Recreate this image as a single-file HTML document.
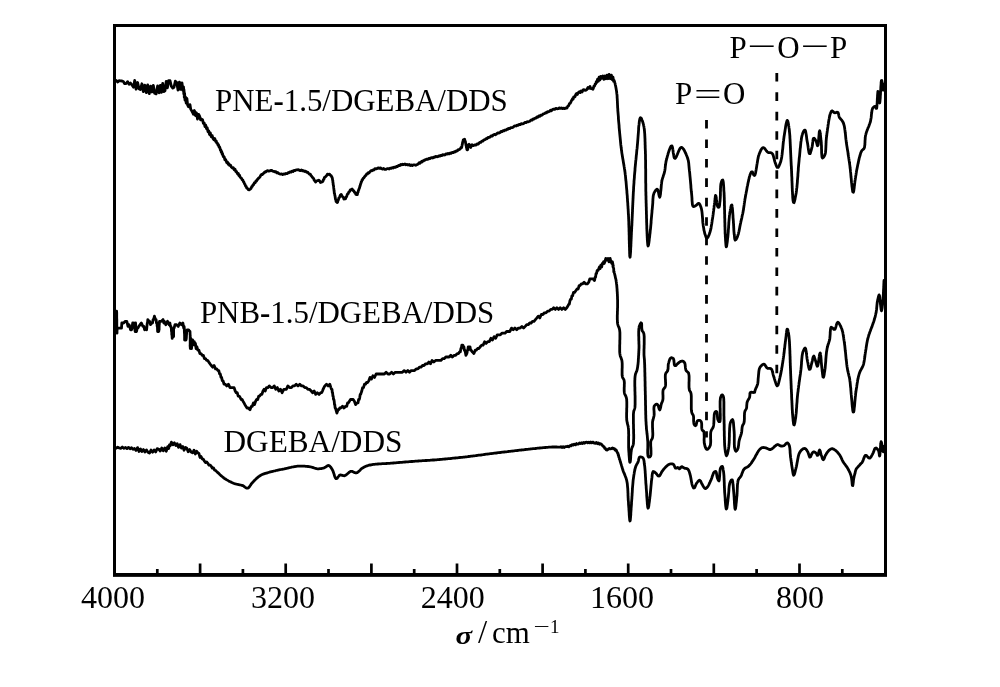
<!DOCTYPE html>
<html><head><meta charset="utf-8"><title>FTIR spectra</title>
<style>
html,body{margin:0;padding:0;background:#fff;}
body{width:1000px;height:687px;overflow:hidden;}
svg{display:block;will-change:transform;}
text{font-family:"Liberation Serif","Times New Roman",serif;font-size:30.9px;fill:#000;}
.c{fill:none;stroke:#000;stroke-width:2.8;stroke-linejoin:round;stroke-linecap:round;}
.t line{stroke:#000;stroke-width:2.7;}
.d{stroke:#000;stroke-width:2.8;stroke-dasharray:8.6 10.85;fill:none;}
</style></head><body>
<svg width="1000" height="687" viewBox="0 0 1000 687">
<rect x="0" y="0" width="1000" height="687" fill="#fff"/>
<rect x="114.5" y="25.5" width="771" height="549.3" fill="none" stroke="#000" stroke-width="3"/>
<rect x="113" y="573" width="774" height="3.8" fill="#000"/>
<g class="t"><line x1="157.3" y1="574" x2="157.3" y2="569.0"/><line x1="200.1" y1="574" x2="200.1" y2="563.5"/><line x1="242.9" y1="574" x2="242.9" y2="569.0"/><line x1="285.7" y1="574" x2="285.7" y2="563.5"/><line x1="328.5" y1="574" x2="328.5" y2="569.0"/><line x1="371.4" y1="574" x2="371.4" y2="563.5"/><line x1="414.2" y1="574" x2="414.2" y2="569.0"/><line x1="457.0" y1="574" x2="457.0" y2="563.5"/><line x1="499.8" y1="574" x2="499.8" y2="569.0"/><line x1="542.6" y1="574" x2="542.6" y2="563.5"/><line x1="585.4" y1="574" x2="585.4" y2="569.0"/><line x1="628.2" y1="574" x2="628.2" y2="563.5"/><line x1="671.0" y1="574" x2="671.0" y2="569.0"/><line x1="713.8" y1="574" x2="713.8" y2="563.5"/><line x1="756.6" y1="574" x2="756.6" y2="569.0"/><line x1="799.5" y1="574" x2="799.5" y2="563.5"/><line x1="842.3" y1="574" x2="842.3" y2="569.0"/></g>
<g><text x="113.0" y="607.6" text-anchor="middle" style="font-size:32px">4000</text><text x="282.9" y="607.6" text-anchor="middle" style="font-size:32px">3200</text><text x="452.8" y="607.6" text-anchor="middle" style="font-size:32px">2400</text><text x="622.0" y="607.6" text-anchor="middle" style="font-size:32px">1600</text><text x="800.1" y="607.6" text-anchor="middle" style="font-size:32px">800</text></g>
<path class="c" d="M116.2 80.5 L117.7 82.1 L119.0 80.7 L120.6 80.8 L122.0 81.0 L123.3 81.5 L124.7 83.7 L126.2 83.5 L127.6 81.7 L129.1 84.3 L130.5 83.1 L132.0 85.0 L133.5 87.2 L134.7 80.4 L136.1 89.2 L137.6 82.5 L139.0 88.7 L140.4 89.6 L141.9 83.8 L143.3 91.6 L144.8 85.1 L146.3 92.7 L147.7 85.0 L149.3 93.7 L150.6 86.2 L151.9 92.0 L153.3 85.3 L154.6 93.3 L156.1 93.9 L157.6 86.0 L159.0 92.8 L160.3 85.5 L161.5 92.4 L162.7 83.4 L163.8 91.6 L165.0 90.8 L166.2 81.5 L167.4 87.8 L168.6 80.6 L170.0 80.7 L171.3 86.1 L172.8 88.1 L174.0 87.3 L175.3 81.2 L176.7 82.6 L178.0 90.0 L179.4 82.1 L180.6 89.4 L182.0 82.9 L182.9 90.3 L183.5 86.8 L183.8 93.9 L183.9 89.5 L184.1 91.1 L184.3 97.4 L184.6 93.4 L185.0 100.2 L185.6 97.1 L186.2 103.1 L186.9 98.4 L187.6 105.0 L188.4 106.7 L189.3 107.0 L190.0 104.6 L190.7 109.1 L191.6 110.6 L192.5 112.2 L193.4 114.3 L194.4 110.5 L195.4 115.6 L196.4 112.8 L197.5 119.0 L198.6 114.3 L199.6 116.1 L200.6 119.9 L201.6 119.2 L202.5 119.7 L203.4 123.3 L204.2 123.0 L205.0 126.7 L205.7 125.1 L206.5 128.8 L207.2 127.7 L208.0 131.8 L208.7 130.8 L209.5 134.5 L210.3 132.7 L211.2 136.8 L212.1 135.4 L213.0 138.4 L213.9 139.8 L214.8 138.6 L215.6 141.5 L216.2 141.0 L216.8 143.1 L217.4 143.1 L218.0 145.0 L218.5 144.8 L219.1 147.2 L219.5 146.8 L219.9 147.8 L220.4 150.1 L220.8 149.8 L221.2 152.1 L221.7 151.6 L222.1 153.9 L222.5 153.5 L223.0 155.7 L223.4 156.6 L223.8 156.4 L224.3 157.3 L224.9 159.8 L225.5 159.5 L226.1 160.7 L226.7 162.6 L227.4 162.0 L228.1 164.2 L228.9 163.8 L229.6 165.4 L230.5 165.1 L231.4 167.1 L232.4 168.1 L233.3 167.7 L234.2 169.8 L235.0 169.2 L235.8 171.5 L236.4 171.4 L237.1 173.0 L237.7 174.0 L238.3 173.5 L238.9 175.5 L239.5 175.2 L240.1 177.0 L240.7 177.7 L241.4 178.1 L242.1 179.7 L242.8 180.0 L243.4 181.7 L243.9 182.1 L244.5 183.9 L245.0 184.3 L245.6 186.2 L246.1 186.3 L246.7 187.9 L247.3 188.2 L248.2 189.6 L249.2 189.8 L250.2 189.1 L251.0 188.4 L251.7 186.7 L252.3 186.5 L253.0 184.9 L253.7 184.6 L254.4 182.7 L255.2 182.7 L255.9 181.0 L256.6 181.0 L257.2 179.6 L257.9 179.3 L258.6 178.0 L259.3 177.7 L260.0 176.8 L260.7 175.4 L261.4 174.5 L262.1 174.7 L263.0 173.7 L263.9 173.1 L264.8 171.9 L265.7 172.1 L266.7 171.0 L267.7 170.6 L268.7 171.2 L269.7 170.9 L270.7 170.4 L271.7 170.3 L272.7 171.2 L273.8 171.4 L275.0 171.9 L275.9 171.6 L276.8 172.8 L277.8 172.6 L278.7 173.5 L279.7 173.9 L280.7 174.2 L281.7 173.9 L282.7 174.5 L283.8 173.9 L285.0 174.2 L286.0 173.5 L287.0 173.7 L288.0 172.7 L289.0 172.8 L290.0 171.9 L291.0 172.2 L292.0 171.1 L293.0 171.5 L294.0 170.3 L295.0 170.7 L296.2 169.8 L297.3 169.8 L298.3 169.6 L299.4 170.3 L300.4 170.6 L301.5 170.0 L302.5 170.9 L303.5 170.6 L304.5 171.5 L305.6 171.2 L306.7 172.4 L307.7 172.2 L308.7 173.5 L309.5 174.2 L310.3 174.2 L311.0 175.6 L311.7 176.3 L312.5 177.3 L313.1 178.1 L313.7 178.7 L314.2 180.3 L314.8 180.5 L315.6 182.0 L316.7 180.8 L317.6 180.7 L318.7 180.2 L319.6 180.9 L320.5 182.5 L321.6 182.2 L322.4 181.6 L322.9 181.4 L323.4 179.6 L323.9 179.3 L324.4 177.5 L325.0 177.2 L325.8 176.4 L326.6 175.7 L327.4 174.2 L328.4 174.5 L329.5 174.1 L330.3 175.3 L331.1 175.5 L331.7 176.9 L332.1 177.4 L332.4 178.6 L332.6 180.1 L332.8 180.5 L332.9 182.4 L333.1 182.8 L333.2 184.6 L333.4 185.2 L333.6 186.4 L333.7 187.9 L333.8 188.5 L333.9 189.4 L334.1 191.1 L334.2 191.5 L334.3 193.1 L334.6 193.7 L334.8 195.3 L335.0 195.8 L335.2 197.2 L335.5 199.2 L335.8 199.7 L336.1 201.5 L336.4 201.8 L337.1 202.5 L337.6 202.2 L338.0 200.5 L338.4 200.0 L338.8 198.0 L339.3 197.7 L339.8 196.6 L340.4 195.0 L341.2 194.4 L342.1 195.9 L342.8 197.0 L343.3 197.3 L343.9 199.0 L344.7 198.9 L345.5 198.9 L346.1 197.1 L346.6 196.7 L347.1 195.0 L347.6 193.8 L348.2 193.7 L348.8 192.1 L349.5 191.6 L350.2 190.0 L351.0 190.1 L352.1 189.0 L353.1 190.6 L353.8 190.9 L354.5 192.3 L355.2 192.6 L355.8 194.3 L356.6 194.7 L357.3 194.6 L357.7 192.7 L358.1 192.2 L358.4 190.5 L358.8 189.8 L359.2 188.3 L359.6 187.8 L359.9 186.1 L360.2 185.8 L360.5 184.1 L360.9 183.6 L361.2 182.1 L361.6 181.7 L362.1 179.9 L362.6 179.7 L363.2 178.2 L363.8 177.9 L364.4 177.1 L365.2 175.7 L366.0 175.4 L366.7 174.0 L367.5 173.9 L368.3 172.6 L369.1 172.8 L370.1 171.5 L371.1 170.7 L372.0 170.9 L372.9 169.9 L373.9 170.0 L374.9 168.7 L375.9 169.0 L376.9 168.7 L378.1 167.8 L379.3 168.4 L380.5 167.8 L381.7 168.8 L382.7 169.2 L383.7 168.5 L384.8 169.4 L386.0 169.3 L387.2 168.6 L388.2 168.6 L389.2 169.0 L390.2 168.2 L391.3 168.4 L392.3 167.6 L393.3 168.0 L394.2 167.1 L395.4 167.4 L396.4 166.4 L397.3 166.6 L398.5 165.5 L399.6 165.7 L400.7 164.5 L401.7 164.9 L402.7 164.2 L403.8 164.6 L405.0 164.0 L406.0 164.8 L407.1 164.4 L408.1 165.0 L409.2 164.5 L410.2 165.5 L411.3 164.9 L412.3 165.5 L413.3 164.8 L414.5 164.8 L415.7 165.3 L416.9 164.6 L418.0 164.2 L419.1 162.8 L420.0 163.2 L420.8 161.9 L421.7 162.1 L422.6 160.9 L423.5 161.0 L424.5 159.9 L425.4 160.0 L426.5 159.1 L427.7 159.3 L428.9 158.4 L429.8 158.8 L430.8 157.8 L431.8 157.6 L432.8 158.0 L433.8 157.1 L434.8 157.3 L435.8 156.4 L436.8 156.8 L437.8 156.6 L438.8 155.8 L439.8 156.2 L440.7 155.3 L441.7 155.6 L442.8 154.6 L443.8 155.0 L444.9 154.9 L446.0 153.9 L447.1 154.2 L448.1 153.4 L449.2 153.9 L450.2 153.0 L451.1 153.3 L452.3 152.4 L453.3 152.7 L454.3 151.6 L455.3 151.9 L456.4 150.8 L457.3 150.9 L458.2 149.6 L459.2 149.6 L460.1 149.1 L461.0 147.5 L461.6 147.6 L462.0 145.7 L462.2 144.6 L462.4 144.0 L462.6 142.3 L462.8 142.0 L463.3 139.9 L463.8 139.5 L464.6 139.2 L465.0 140.9 L465.4 141.5 L465.6 143.2 L465.8 143.5 L466.0 145.3 L466.2 145.6 L466.4 147.4 L466.6 147.7 L466.9 149.6 L467.3 149.9 L467.7 149.6 L467.9 148.1 L468.1 147.0 L468.2 145.4 L468.5 144.9 L469.1 144.2 L469.6 146.1 L470.0 146.4 L470.8 147.4 L471.3 145.6 L472.0 144.7 L473.1 145.7 L474.1 145.2 L475.1 144.9 L476.1 145.0 L477.0 144.0 L478.1 144.1 L478.9 143.4 L479.9 142.3 L480.8 142.3 L481.8 141.1 L482.8 141.1 L483.8 139.8 L484.8 139.9 L485.9 138.7 L486.9 138.8 L488.0 137.5 L489.0 137.5 L490.0 137.2 L491.0 135.9 L492.1 136.2 L493.2 135.0 L494.3 134.4 L495.3 134.8 L496.2 134.3 L497.2 133.2 L498.1 132.8 L499.1 133.1 L500.1 132.6 L501.0 131.4 L502.0 131.7 L503.0 130.6 L504.0 130.9 L505.0 130.0 L505.9 130.2 L506.9 129.2 L507.9 129.3 L508.8 128.3 L509.7 128.6 L510.9 127.6 L512.0 127.7 L513.1 127.3 L514.2 126.1 L515.3 125.8 L516.3 126.0 L517.3 125.1 L518.3 125.3 L519.3 124.4 L520.2 124.7 L521.4 123.6 L522.6 123.9 L523.7 123.5 L524.8 122.5 L526.0 122.7 L527.1 121.7 L528.1 121.8 L529.0 121.5 L530.0 121.1 L531.1 120.0 L532.2 120.0 L533.1 118.9 L534.1 119.1 L535.0 118.1 L535.9 118.1 L536.9 116.9 L537.8 117.3 L538.7 116.0 L539.7 116.4 L540.6 115.2 L541.5 115.4 L542.4 114.8 L543.3 113.8 L544.4 113.7 L545.5 112.7 L546.5 112.9 L547.5 111.7 L548.6 111.8 L549.6 111.3 L550.5 110.2 L551.5 110.7 L552.4 109.5 L553.6 109.1 L554.7 109.3 L555.9 108.3 L557.0 108.8 L558.3 108.6 L559.3 107.8 L560.4 108.4 L561.5 107.9 L562.6 108.7 L563.6 108.2 L564.8 108.6 L565.9 107.9 L566.9 108.1 L567.7 106.4 L568.4 105.9 L568.9 105.1 L569.5 103.6 L570.1 103.4 L570.8 102.3 L571.4 100.8 L572.0 99.9 L572.5 98.7 L573.1 99.1 L573.7 97.0 L574.3 97.3 L575.0 96.7 L575.7 94.6 L576.6 93.5 L577.4 94.4 L578.3 92.5 L579.2 91.8 L580.2 92.6 L581.1 90.9 L582.1 91.9 L583.1 89.8 L584.0 89.6 L585.1 90.3 L586.0 90.1 L587.0 89.3 L588.0 87.5 L588.9 88.2 L590.0 86.5 L590.6 88.5 L591.1 88.6 L592.0 88.6 L592.8 89.3 L593.3 88.5 L593.9 86.1 L594.5 86.2 L595.2 84.0 L595.8 83.8 L596.3 81.6 L596.8 82.3 L597.6 79.2 L598.3 81.2 L599.1 77.2 L599.9 80.0 L600.8 76.4 L601.7 78.3 L602.9 75.9 L603.9 79.4 L605.0 76.0 L606.0 78.8 L607.0 75.1 L608.0 78.7 L609.1 74.4 L610.2 78.7 L611.4 75.1 L612.2 79.6 L613.0 77.2 L613.6 81.2 L614.1 80.5 L614.5 81.6 L614.8 82.7 L615.1 83.7 L615.3 84.8 L615.6 85.9 L615.8 87.0 L616.0 88.1 L616.2 89.3 L616.4 90.4 L616.6 91.5 L616.7 92.6 L616.8 93.7 L617.0 94.8 L617.1 96.0 L617.1 97.2 L617.2 98.4 L617.3 99.7 L617.3 100.7 L617.4 101.7 L617.4 102.7 L617.5 103.8 L617.5 104.9 L617.6 105.9 L617.6 107.0 L617.7 108.1 L617.8 109.2 L617.8 110.3 L617.9 111.4 L618.0 112.5 L618.1 113.7 L618.2 114.8 L618.3 116.0 L618.4 117.2 L618.4 118.4 L618.5 119.6 L618.6 120.9 L618.7 121.9 L618.8 122.9 L618.9 123.9 L619.0 124.9 L619.1 126.0 L619.1 127.0 L619.2 128.0 L619.3 129.1 L619.4 130.1 L619.5 131.2 L619.6 132.2 L619.7 133.3 L619.8 134.3 L619.9 135.3 L620.0 136.4 L620.1 137.4 L620.2 138.4 L620.3 139.5 L620.4 140.5 L620.5 141.5 L620.6 142.5 L620.7 143.7 L620.8 144.9 L621.0 146.1 L621.1 147.3 L621.3 148.5 L621.4 149.6 L621.5 150.6 L621.7 151.6 L621.8 152.6 L622.0 153.9 L622.2 155.1 L622.4 156.3 L622.6 157.5 L622.8 158.7 L623.0 159.8 L623.2 161.0 L623.4 162.2 L623.6 163.4 L623.8 164.6 L624.0 165.8 L624.2 167.0 L624.4 168.0 L624.5 169.0 L624.7 170.0 L624.8 171.1 L625.0 172.1 L625.1 173.2 L625.2 174.2 L625.4 175.3 L625.5 176.5 L625.6 177.6 L625.7 178.8 L625.8 180.0 L626.0 181.2 L626.1 182.4 L626.2 183.6 L626.3 184.8 L626.4 186.0 L626.5 187.3 L626.6 188.3 L626.7 189.3 L626.8 190.3 L626.9 191.3 L626.9 192.3 L627.0 193.4 L627.1 194.4 L627.2 195.4 L627.3 196.4 L627.3 197.5 L627.4 198.5 L627.5 199.5 L627.5 200.6 L627.6 201.6 L627.7 202.6 L627.8 203.7 L627.8 204.7 L627.9 205.8 L628.0 206.8 L628.0 207.8 L628.1 208.9 L628.2 209.9 L628.2 210.9 L628.3 212.0 L628.3 213.0 L628.4 214.0 L628.5 215.0 L628.5 216.1 L628.6 217.1 L628.6 218.3 L628.7 219.4 L628.7 220.6 L628.8 221.9 L628.8 223.1 L628.8 224.4 L628.9 225.7 L628.9 227.0 L629.0 228.3 L629.0 229.6 L629.0 231.0 L629.1 232.0 L629.1 233.0 L629.1 234.3 L629.2 235.6 L629.2 236.9 L629.2 238.2 L629.2 239.5 L629.3 240.8 L629.3 242.0 L629.3 243.3 L629.4 244.5 L629.4 245.6 L629.4 246.7 L629.5 247.8 L629.5 248.9 L629.5 249.9 L629.6 251.1 L629.6 252.2 L629.6 253.2 L629.7 254.3 L629.7 255.3 L629.8 256.4 L630.1 257.2 L630.2 256.2 L630.3 255.1 L630.4 253.9 L630.5 252.8 L630.6 251.6 L630.6 250.6 L630.7 249.5 L630.7 248.3 L630.8 247.1 L630.9 245.8 L630.9 244.5 L631.0 243.2 L631.0 241.9 L631.1 240.9 L631.1 239.9 L631.2 238.9 L631.2 237.9 L631.3 236.9 L631.3 235.6 L631.4 234.3 L631.4 233.0 L631.5 231.8 L631.6 230.6 L631.6 229.6 L631.7 228.5 L631.7 227.4 L631.8 226.2 L631.9 225.1 L631.9 223.9 L632.0 222.7 L632.0 221.5 L632.1 220.3 L632.1 219.0 L632.2 217.8 L632.2 216.8 L632.3 215.8 L632.3 214.7 L632.4 213.7 L632.4 212.7 L632.5 211.6 L632.5 210.6 L632.5 209.6 L632.6 208.5 L632.6 207.5 L632.7 206.4 L632.7 205.4 L632.8 204.3 L632.8 203.2 L632.9 202.2 L632.9 201.1 L633.0 200.1 L633.0 199.0 L633.1 198.0 L633.1 196.9 L633.2 195.9 L633.2 194.9 L633.3 193.8 L633.3 192.8 L633.4 191.8 L633.5 190.8 L633.5 189.8 L633.6 188.8 L633.6 187.5 L633.7 186.3 L633.8 185.1 L633.9 183.9 L634.0 182.7 L634.0 181.5 L634.1 180.4 L634.2 179.3 L634.3 178.3 L634.4 177.2 L634.4 176.2 L634.5 175.1 L634.6 174.1 L634.7 173.0 L634.8 172.0 L634.9 171.0 L635.0 170.0 L635.0 168.9 L635.1 167.9 L635.2 166.9 L635.3 165.9 L635.4 164.9 L635.5 163.9 L635.6 162.9 L635.7 161.7 L635.8 160.4 L636.0 159.2 L636.1 158.0 L636.2 156.8 L636.3 155.5 L636.5 154.3 L636.6 153.1 L636.7 151.9 L636.8 150.7 L636.9 149.5 L637.1 148.4 L637.2 147.2 L637.3 146.0 L637.4 144.9 L637.5 143.8 L637.6 142.6 L637.7 141.4 L637.8 140.1 L637.9 138.8 L638.0 137.5 L638.1 136.2 L638.2 134.9 L638.3 133.6 L638.4 132.3 L638.5 131.0 L638.6 129.7 L638.6 128.4 L638.7 127.2 L638.8 126.0 L639.0 124.9 L639.1 123.8 L639.2 122.8 L639.3 121.7 L639.5 120.6 L639.7 119.5 L639.9 118.6 L640.4 117.7 L641.2 118.2 L641.7 119.2 L642.1 120.3 L642.6 121.4 L642.9 122.7 L643.2 123.7 L643.5 124.7 L643.7 125.8 L644.0 126.9 L644.1 127.9 L644.3 129.0 L644.4 130.0 L644.5 131.2 L644.6 132.3 L644.7 133.5 L644.8 134.8 L644.8 135.8 L644.9 136.8 L644.9 137.9 L645.0 138.9 L645.0 140.0 L645.0 141.1 L645.1 142.2 L645.1 143.3 L645.1 144.5 L645.2 145.6 L645.2 146.8 L645.2 147.9 L645.3 149.1 L645.3 150.1 L645.4 151.2 L645.4 152.2 L645.4 153.3 L645.5 154.5 L645.5 155.6 L645.5 156.7 L645.5 157.9 L645.5 159.1 L645.6 160.3 L645.6 161.5 L645.6 162.7 L645.6 164.0 L645.6 165.0 L645.6 166.0 L645.6 167.0 L645.6 168.0 L645.7 169.1 L645.7 170.1 L645.7 171.1 L645.7 172.2 L645.7 173.2 L645.7 174.3 L645.7 175.3 L645.7 176.4 L645.7 177.4 L645.7 178.5 L645.7 179.5 L645.7 180.6 L645.7 181.6 L645.7 182.7 L645.8 183.8 L645.8 184.8 L645.8 185.9 L645.8 186.9 L645.8 188.0 L645.8 189.0 L645.8 190.1 L645.8 191.1 L645.9 192.1 L645.9 193.2 L645.9 194.2 L645.9 195.2 L646.0 196.2 L646.0 197.2 L646.0 198.3 L646.0 199.3 L646.1 200.4 L646.1 201.5 L646.1 202.6 L646.2 203.8 L646.2 205.0 L646.2 206.2 L646.3 207.4 L646.3 208.7 L646.3 210.0 L646.4 211.3 L646.4 212.6 L646.4 213.9 L646.5 215.2 L646.5 216.6 L646.5 217.9 L646.6 219.2 L646.6 220.5 L646.6 221.9 L646.7 223.2 L646.7 224.5 L646.8 225.8 L646.8 227.0 L646.8 228.3 L646.9 229.5 L646.9 230.7 L647.0 231.9 L647.0 233.1 L647.1 234.2 L647.1 235.3 L647.2 236.3 L647.2 237.3 L647.3 238.5 L647.3 239.7 L647.4 240.7 L647.5 241.9 L647.6 242.9 L647.7 244.0 L647.8 245.0 L648.1 246.0 L648.5 245.0 L648.7 243.8 L648.9 242.8 L649.0 241.7 L649.2 240.5 L649.3 239.2 L649.4 238.2 L649.6 237.2 L649.7 236.2 L649.8 234.8 L650.0 233.6 L650.1 232.5 L650.2 231.4 L650.3 230.2 L650.5 229.0 L650.6 227.8 L650.7 226.8 L650.8 225.7 L650.9 224.7 L651.0 223.6 L651.1 222.5 L651.1 221.4 L651.2 220.3 L651.3 219.2 L651.4 218.2 L651.5 217.1 L651.6 216.0 L651.7 214.9 L651.8 213.8 L651.9 212.8 L652.0 211.8 L652.0 210.8 L652.2 209.6 L652.3 208.4 L652.4 207.3 L652.5 206.2 L652.6 205.1 L652.7 203.9 L652.8 202.8 L652.8 201.6 L652.9 200.5 L652.9 199.5 L653.0 198.4 L653.1 197.4 L653.2 196.2 L653.4 195.1 L653.7 194.1 L654.1 192.9 L654.7 191.8 L655.4 190.7 L656.2 189.8 L657.0 189.2 L657.8 189.8 L658.1 190.8 L658.4 192.1 L658.6 193.1 L658.8 194.2 L659.0 195.2 L659.3 196.3 L659.7 197.2 L660.1 196.3 L660.3 195.1 L660.5 193.9 L660.6 192.8 L660.7 191.6 L660.9 190.3 L661.0 189.0 L661.1 188.0 L661.2 187.0 L661.3 185.7 L661.4 184.4 L661.6 183.2 L661.7 182.1 L661.9 181.1 L662.1 179.8 L662.4 178.8 L662.7 177.8 L663.1 176.7 L663.4 175.6 L663.8 174.4 L664.2 173.3 L664.4 172.3 L664.7 171.1 L664.9 169.9 L665.1 168.7 L665.2 167.7 L665.3 166.7 L665.4 165.7 L665.6 164.6 L665.7 163.6 L665.9 162.6 L666.0 161.5 L666.3 160.5 L666.5 159.5 L666.8 158.5 L667.1 157.4 L667.4 156.2 L667.8 154.9 L668.1 153.7 L668.5 152.4 L668.9 151.2 L669.3 150.0 L669.7 148.9 L670.1 147.9 L670.6 146.9 L671.1 146.1 L672.0 145.9 L672.4 146.9 L672.6 148.0 L672.8 149.2 L673.0 150.2 L673.1 151.3 L673.2 152.4 L673.4 153.5 L673.6 154.5 L673.8 155.8 L674.0 156.9 L674.4 158.0 L675.2 158.4 L675.8 157.7 L676.4 156.5 L676.9 155.4 L677.3 154.5 L677.7 153.5 L678.1 152.5 L678.5 151.5 L678.9 150.6 L679.5 149.4 L680.0 148.4 L680.7 147.6 L681.7 147.4 L682.6 148.1 L683.3 148.9 L683.9 149.8 L684.5 150.8 L685.0 151.9 L685.5 153.0 L686.1 154.2 L686.5 155.3 L687.0 156.5 L687.4 157.5 L687.7 158.5 L688.0 159.5 L688.3 160.6 L688.5 161.8 L688.7 163.0 L688.8 164.2 L688.9 165.4 L689.0 166.4 L689.1 167.5 L689.2 168.6 L689.3 169.7 L689.4 170.7 L689.6 171.9 L689.7 173.0 L689.8 174.2 L689.9 175.3 L690.0 176.3 L690.1 177.3 L690.2 178.4 L690.3 179.5 L690.4 180.6 L690.5 181.7 L690.6 182.8 L690.7 183.9 L690.8 185.0 L690.9 186.1 L690.9 187.1 L691.0 188.2 L691.1 189.2 L691.2 190.2 L691.3 191.5 L691.5 192.6 L691.6 193.8 L691.7 194.8 L691.8 196.0 L691.9 197.3 L692.0 198.6 L692.0 199.8 L692.1 201.1 L692.2 202.2 L692.3 203.3 L692.4 204.5 L692.7 205.6 L693.3 206.5 L694.5 206.4 L695.5 205.8 L696.4 205.2 L697.3 204.3 L698.1 203.5 L699.1 203.5 L699.8 204.3 L700.2 205.3 L700.7 206.5 L701.1 207.7 L701.4 208.7 L701.6 209.7 L701.8 210.8 L702.0 212.1 L702.1 213.1 L702.2 214.2 L702.3 215.3 L702.4 216.4 L702.5 217.5 L702.6 218.7 L702.7 219.8 L702.7 220.9 L702.8 222.0 L702.9 223.0 L703.1 224.2 L703.2 225.4 L703.4 226.6 L703.6 227.7 L703.8 228.8 L703.9 229.8 L704.2 231.0 L704.5 232.2 L704.7 233.3 L705.1 234.4 L705.5 235.6 L705.9 236.8 L706.4 237.8 L707.2 238.2 L707.9 237.4 L708.3 236.5 L708.8 235.4 L709.3 234.2 L709.6 233.2 L710.0 232.0 L710.3 231.0 L710.6 229.9 L710.9 228.7 L711.1 227.7 L711.2 226.7 L711.4 225.7 L711.6 224.6 L711.8 223.5 L711.9 222.5 L712.1 221.4 L712.2 220.3 L712.4 219.3 L712.6 218.3 L712.7 217.3 L712.9 216.2 L713.0 215.2 L713.2 214.2 L713.3 213.1 L713.4 212.1 L713.6 211.0 L713.7 210.0 L713.8 208.9 L714.0 207.9 L714.1 206.9 L714.2 205.7 L714.4 204.5 L714.5 203.4 L714.7 202.4 L714.8 201.1 L714.9 200.1 L715.1 198.8 L715.2 197.6 L715.3 196.6 L715.5 195.5 L716.0 196.1 L716.1 197.3 L716.3 198.4 L716.4 199.8 L716.5 200.8 L716.7 201.8 L716.8 202.9 L717.0 204.1 L717.2 205.2 L717.5 206.2 L718.2 207.3 L719.1 207.2 L719.4 206.1 L719.6 205.1 L719.7 203.9 L719.8 202.6 L720.0 201.3 L720.1 200.0 L720.2 198.9 L720.3 197.7 L720.3 196.7 L720.4 195.6 L720.4 194.5 L720.4 193.4 L720.4 192.2 L720.5 191.1 L720.5 189.9 L720.5 188.8 L720.6 187.7 L720.6 186.7 L720.7 185.5 L720.8 184.4 L721.0 183.3 L721.3 182.3 L721.6 181.4 L722.1 180.3 L722.8 180.0 L723.1 181.1 L723.3 182.2 L723.4 183.2 L723.5 184.4 L723.6 185.6 L723.7 186.9 L723.8 188.3 L723.8 189.6 L723.9 190.8 L724.0 192.0 L724.1 193.1 L724.1 194.2 L724.2 195.4 L724.2 196.6 L724.3 197.8 L724.3 199.1 L724.3 200.1 L724.4 201.1 L724.4 202.1 L724.4 203.1 L724.4 204.1 L724.4 205.2 L724.5 206.2 L724.5 207.3 L724.5 208.3 L724.5 209.4 L724.6 210.4 L724.6 211.5 L724.6 212.5 L724.6 213.7 L724.7 214.7 L724.7 215.7 L724.7 216.8 L724.7 217.8 L724.8 218.9 L724.8 219.9 L724.8 221.0 L724.8 222.0 L724.9 223.1 L724.9 224.2 L724.9 225.2 L724.9 226.3 L725.0 227.3 L725.0 228.4 L725.0 229.4 L725.1 230.6 L725.1 231.8 L725.1 233.0 L725.2 234.1 L725.3 235.2 L725.3 236.3 L725.4 237.6 L725.5 238.9 L725.5 239.9 L725.6 240.9 L725.7 242.2 L725.8 243.4 L725.9 244.5 L726.0 245.7 L726.2 246.8 L726.6 246.4 L726.8 245.1 L726.9 244.1 L727.1 242.9 L727.3 241.6 L727.4 240.6 L727.5 239.6 L727.6 238.6 L727.8 237.3 L727.9 236.2 L728.0 235.1 L728.1 233.9 L728.2 232.7 L728.3 231.7 L728.3 230.6 L728.4 229.6 L728.5 228.5 L728.6 227.4 L728.6 226.3 L728.7 225.2 L728.8 224.1 L728.8 223.0 L728.9 221.9 L729.0 220.8 L729.1 219.7 L729.2 218.7 L729.3 217.5 L729.4 216.3 L729.5 215.2 L729.7 214.2 L729.8 213.1 L730.0 212.1 L730.2 211.0 L730.3 210.0 L730.6 208.7 L730.8 207.5 L731.0 206.5 L731.3 205.5 L731.8 204.9 L732.1 205.9 L732.2 207.0 L732.4 208.2 L732.5 209.4 L732.6 210.6 L732.7 211.9 L732.8 213.2 L732.9 214.5 L733.0 215.8 L733.0 217.1 L733.1 218.2 L733.2 219.2 L733.3 220.3 L733.4 221.3 L733.4 222.3 L733.5 223.4 L733.6 224.5 L733.6 225.6 L733.7 226.6 L733.7 227.7 L733.8 228.7 L733.8 229.7 L733.9 230.9 L734.0 232.1 L734.1 233.2 L734.2 234.3 L734.4 235.6 L734.5 236.9 L734.6 238.1 L734.8 239.2 L735.2 240.1 L736.0 239.6 L736.5 238.7 L737.1 237.5 L737.5 236.6 L737.8 235.6 L738.2 234.6 L738.5 233.5 L738.7 232.3 L739.0 231.3 L739.2 230.3 L739.4 229.3 L739.6 228.2 L739.8 227.1 L740.0 226.1 L740.2 225.0 L740.4 224.0 L740.7 222.8 L740.9 221.6 L741.2 220.4 L741.5 219.2 L741.8 218.0 L742.0 216.8 L742.2 215.8 L742.4 214.8 L742.7 213.8 L742.9 212.8 L743.1 211.8 L743.2 210.8 L743.5 209.6 L743.6 208.4 L743.8 207.2 L744.0 205.9 L744.2 204.7 L744.3 203.5 L744.5 202.5 L744.6 201.5 L744.8 200.5 L744.9 199.4 L745.1 198.4 L745.3 197.4 L745.5 196.3 L745.6 195.3 L745.9 194.1 L746.1 193.1 L746.3 192.0 L746.5 191.0 L746.7 189.9 L746.9 188.7 L747.1 187.6 L747.3 186.4 L747.6 185.3 L747.8 184.2 L748.0 183.0 L748.3 181.9 L748.5 180.9 L748.7 179.8 L749.0 178.9 L749.2 177.7 L749.5 176.6 L749.8 175.7 L750.1 174.7 L750.5 173.7 L751.0 172.7 L751.5 171.8 L752.4 171.9 L752.9 173.0 L753.3 174.0 L753.7 174.9 L754.4 175.6 L755.0 174.8 L755.3 173.8 L755.6 172.8 L755.8 171.6 L756.0 170.5 L756.2 169.4 L756.4 168.1 L756.6 166.9 L756.8 165.6 L757.0 164.3 L757.2 163.3 L757.4 162.0 L757.6 160.7 L757.8 159.4 L758.1 158.2 L758.3 157.1 L758.5 156.1 L758.9 155.0 L759.2 154.0 L759.7 152.8 L760.2 151.7 L760.7 150.5 L761.2 149.5 L761.8 148.7 L762.5 147.9 L763.5 147.6 L764.4 148.2 L765.1 149.0 L765.8 150.0 L766.5 151.0 L767.3 151.8 L768.2 152.5 L769.3 152.7 L770.3 152.7 L771.3 152.8 L772.2 153.5 L772.8 154.3 L773.2 155.4 L773.5 156.5 L773.8 157.6 L774.1 158.7 L774.4 159.9 L774.6 160.9 L774.9 161.9 L775.3 163.1 L775.8 164.3 L776.2 165.5 L776.7 166.6 L777.2 167.4 L778.2 167.3 L778.8 166.5 L779.2 165.5 L779.7 164.4 L780.2 163.1 L780.5 162.2 L780.9 161.0 L781.1 159.9 L781.4 158.9 L781.6 157.8 L781.8 156.7 L781.9 155.5 L782.1 154.5 L782.2 153.4 L782.3 152.4 L782.4 151.3 L782.5 150.2 L782.7 149.1 L782.8 148.0 L782.9 146.9 L783.0 145.7 L783.1 144.6 L783.2 143.5 L783.3 142.5 L783.4 141.4 L783.6 140.4 L783.7 139.3 L783.9 138.1 L784.0 136.9 L784.2 135.8 L784.4 134.6 L784.6 133.3 L784.8 132.0 L785.0 130.7 L785.2 129.4 L785.4 128.1 L785.6 126.8 L785.8 125.6 L786.0 124.5 L786.2 123.5 L786.5 122.4 L786.8 121.3 L787.2 120.4 L787.8 121.2 L788.1 122.3 L788.3 123.3 L788.5 124.5 L788.7 125.8 L788.9 126.8 L789.0 127.9 L789.2 128.9 L789.3 129.9 L789.4 131.0 L789.5 132.1 L789.6 133.1 L789.7 134.2 L789.8 135.3 L789.9 136.4 L789.9 137.6 L790.0 138.8 L790.1 140.1 L790.1 141.1 L790.2 142.1 L790.2 143.2 L790.3 144.3 L790.3 145.3 L790.4 146.4 L790.4 147.5 L790.5 148.6 L790.5 149.7 L790.6 150.8 L790.6 152.0 L790.7 153.1 L790.7 154.2 L790.8 155.3 L790.8 156.4 L790.9 157.5 L790.9 158.6 L791.0 159.7 L791.0 160.8 L791.1 161.9 L791.1 162.9 L791.2 164.0 L791.2 165.0 L791.3 166.0 L791.4 167.0 L791.4 168.1 L791.5 169.2 L791.5 170.4 L791.6 171.6 L791.6 172.8 L791.7 174.1 L791.7 175.4 L791.8 176.7 L791.9 178.0 L791.9 179.3 L791.9 180.3 L792.0 181.3 L792.0 182.3 L792.1 183.7 L792.1 185.0 L792.2 186.3 L792.2 187.6 L792.3 188.9 L792.3 190.1 L792.4 191.3 L792.5 192.5 L792.5 193.6 L792.6 194.7 L792.7 195.8 L792.7 197.0 L792.8 198.1 L792.9 199.2 L793.0 200.3 L793.2 201.3 L793.4 202.3 L794.0 202.7 L794.4 201.6 L794.7 200.4 L795.0 199.3 L795.2 198.0 L795.4 197.0 L795.6 196.0 L795.8 195.0 L796.0 194.0 L796.2 193.0 L796.3 191.9 L796.5 190.7 L796.6 189.6 L796.7 188.5 L796.9 187.4 L797.0 186.2 L797.1 185.0 L797.2 184.0 L797.3 182.9 L797.4 181.9 L797.4 180.8 L797.5 179.8 L797.6 178.7 L797.7 177.6 L797.8 176.5 L797.9 175.4 L797.9 174.3 L798.0 173.1 L798.1 172.0 L798.2 170.9 L798.3 169.8 L798.3 168.7 L798.4 167.6 L798.5 166.5 L798.6 165.5 L798.7 164.4 L798.8 163.4 L798.9 162.3 L799.0 161.3 L799.1 160.1 L799.2 158.9 L799.3 157.7 L799.5 156.6 L799.6 155.5 L799.7 154.3 L799.8 153.2 L799.9 152.1 L800.0 150.9 L800.1 149.7 L800.2 148.6 L800.4 147.5 L800.5 146.3 L800.6 145.2 L800.7 144.1 L800.8 143.1 L800.9 142.0 L801.1 141.0 L801.3 139.8 L801.4 138.7 L801.6 137.6 L801.8 136.6 L802.1 135.4 L802.4 134.4 L802.7 133.3 L803.1 132.4 L803.7 131.2 L804.3 130.4 L805.1 130.1 L805.6 131.2 L805.8 132.3 L806.0 133.4 L806.2 134.6 L806.4 135.8 L806.6 137.2 L806.7 138.5 L806.9 139.7 L807.1 140.9 L807.3 142.0 L807.5 143.1 L807.7 144.3 L807.9 145.6 L808.1 146.9 L808.2 147.9 L808.4 149.2 L808.6 150.4 L808.8 151.5 L809.0 152.7 L809.4 153.6 L810.1 153.7 L810.5 152.7 L810.8 151.7 L811.2 150.4 L811.5 149.2 L811.8 147.9 L812.1 146.8 L812.3 145.7 L812.5 144.5 L812.6 143.2 L812.8 141.9 L812.9 140.7 L813.1 139.6 L813.3 138.6 L814.1 138.2 L814.8 139.0 L815.5 140.1 L816.1 141.2 L816.5 142.2 L816.8 143.5 L817.1 144.7 L817.5 145.8 L818.0 145.3 L818.2 144.2 L818.3 143.1 L818.4 141.8 L818.5 140.8 L818.6 139.7 L818.7 138.6 L818.8 137.4 L818.9 136.3 L819.0 135.3 L819.1 134.0 L819.2 132.8 L819.3 131.7 L819.7 130.8 L820.0 131.9 L820.2 133.0 L820.3 134.1 L820.5 135.3 L820.6 136.6 L820.8 138.0 L820.9 139.3 L821.0 140.5 L821.2 141.7 L821.3 142.7 L821.3 143.8 L821.4 144.9 L821.5 146.2 L821.5 147.5 L821.5 148.8 L821.6 150.1 L821.6 151.4 L821.6 152.6 L821.7 153.8 L821.8 154.9 L821.9 156.0 L822.0 157.1 L822.5 158.0 L823.4 157.4 L824.1 156.4 L824.6 155.5 L825.0 154.5 L825.3 153.5 L825.5 152.5 L825.6 151.4 L825.7 150.2 L825.8 149.2 L825.8 148.2 L825.9 147.1 L825.9 146.0 L826.0 144.9 L826.0 143.7 L826.1 142.6 L826.1 141.4 L826.2 140.3 L826.3 139.1 L826.4 138.0 L826.5 137.0 L826.7 135.8 L826.8 134.8 L826.9 133.7 L827.1 132.6 L827.2 131.5 L827.4 130.4 L827.5 129.2 L827.7 128.0 L827.9 126.9 L828.0 125.7 L828.2 124.6 L828.4 123.4 L828.5 122.3 L828.7 121.2 L828.9 120.1 L829.1 119.1 L829.3 117.9 L829.5 116.8 L829.8 115.7 L830.0 114.6 L830.4 113.6 L830.8 112.5 L831.3 111.4 L832.1 110.8 L833.0 111.4 L833.8 112.4 L834.7 112.8 L835.8 112.6 L836.8 112.2 L837.8 112.3 L838.3 113.2 L838.6 114.3 L838.8 115.5 L839.1 116.7 L839.5 117.6 L840.2 118.5 L841.0 119.4 L841.7 120.2 L842.3 121.0 L842.9 122.0 L843.4 123.0 L843.7 124.0 L844.0 125.0 L844.3 126.1 L844.5 127.2 L844.7 128.4 L844.8 129.4 L845.0 130.5 L845.1 131.5 L845.2 132.6 L845.4 133.7 L845.5 134.8 L845.6 135.9 L845.7 137.0 L845.8 138.1 L845.9 139.2 L846.1 140.2 L846.2 141.3 L846.3 142.3 L846.5 143.4 L846.6 144.3 L846.8 145.6 L847.0 146.8 L847.2 148.0 L847.4 149.2 L847.6 150.4 L847.8 151.6 L848.0 152.8 L848.1 154.0 L848.3 155.3 L848.5 156.5 L848.7 157.5 L848.8 158.5 L849.0 159.5 L849.1 160.5 L849.3 161.5 L849.4 162.6 L849.6 163.6 L849.7 164.6 L849.9 165.9 L850.0 166.9 L850.1 168.1 L850.3 169.2 L850.4 170.5 L850.5 171.7 L850.7 173.0 L850.8 174.3 L850.9 175.6 L851.0 177.0 L851.2 178.3 L851.3 179.6 L851.4 180.9 L851.5 182.2 L851.7 183.4 L851.8 184.6 L851.9 185.7 L852.0 186.8 L852.2 187.8 L852.3 188.9 L852.5 190.0 L852.6 191.0 L852.9 192.0 L853.4 192.2 L853.7 191.2 L853.9 190.1 L854.0 189.0 L854.2 187.9 L854.3 186.6 L854.5 185.3 L854.6 184.0 L854.8 182.7 L854.9 181.4 L855.1 180.2 L855.3 179.2 L855.4 178.2 L855.6 177.2 L855.7 176.2 L855.9 175.2 L856.1 174.2 L856.2 173.2 L856.4 172.2 L856.5 171.2 L856.7 170.2 L856.9 169.2 L857.1 168.2 L857.3 167.2 L857.5 166.2 L857.7 165.2 L857.9 164.2 L858.2 163.2 L858.4 162.1 L858.6 161.0 L858.9 159.9 L859.1 158.7 L859.4 157.6 L859.7 156.5 L860.0 155.5 L860.3 154.5 L860.6 153.3 L861.0 152.3 L861.5 151.2 L862.1 150.3 L862.8 149.7 L863.8 148.9 L864.3 147.9 L864.6 146.8 L864.7 145.7 L864.9 144.5 L864.9 143.4 L865.0 142.3 L865.0 141.2 L865.1 140.0 L865.2 138.9 L865.2 137.7 L865.4 136.6 L865.5 135.6 L865.8 134.6 L866.1 133.4 L866.4 132.4 L866.7 131.4 L867.1 130.5 L867.4 129.5 L867.8 128.6 L868.2 127.6 L868.6 126.7 L869.0 125.7 L869.3 124.8 L869.7 123.8 L870.0 122.9 L870.4 121.7 L870.6 120.7 L870.8 119.6 L871.0 118.5 L871.2 117.4 L871.3 116.2 L871.4 115.1 L871.5 113.9 L871.7 112.8 L871.8 111.8 L872.0 110.5 L872.2 109.5 L872.6 108.4 L873.2 107.5 L874.1 106.7 L875.2 106.4 L875.8 107.3 L876.1 108.3 L876.6 108.4 L876.8 107.4 L876.9 106.1 L877.0 104.9 L877.1 103.6 L877.2 102.5 L877.2 101.4 L877.3 100.3 L877.3 99.2 L877.4 98.1 L877.5 97.0 L877.5 96.0 L877.6 94.7 L877.7 93.5 L877.8 92.4 L877.9 91.4 L878.3 92.1 L878.4 93.4 L878.6 94.6 L878.7 95.7 L878.8 96.8 L878.9 97.9 L879.0 99.1 L879.1 100.1 L879.2 101.3 L879.4 102.5 L879.7 102.9 L879.9 101.8 L880.0 100.7 L880.1 99.6 L880.2 98.5 L880.3 97.2 L880.3 96.2 L880.4 95.1 L880.5 94.0 L880.5 92.9 L880.6 91.8 L880.6 90.7 L880.7 89.6 L880.8 88.5 L880.8 87.4 L880.9 86.4 L881.0 85.1 L881.1 83.8 L881.1 82.8 L881.3 81.6 L881.4 80.6 L881.8 80.4 L882.0 81.5 L882.1 82.7 L882.2 83.7 L882.4 84.8 L882.5 85.9 L882.6 87.0 L882.7 88.0 L882.9 89.2 L883.1 90.2 L883.5 89.5 L883.8 88.3 L884.0 87.2 L884.1 86.1 L884.3 84.9 L884.4 84.0"/>
<path class="c" d="M116.2 321.3 L116.2 319.6 L116.3 317.9 L116.3 316.2 L116.4 314.5 L116.4 312.8 L116.5 311.1 L116.6 311.1 L116.7 312.8 L116.7 314.5 L116.7 316.2 L116.7 317.9 L116.8 319.6 L116.8 321.3 L116.8 323.0 L116.8 324.7 L116.8 326.4 L116.8 328.1 L116.9 329.8 L116.9 331.5 L116.9 333.2 L117.0 333.2 L117.0 331.5 L117.1 329.8 L117.2 328.1 L118.6 328.1 L120.3 328.1 L121.5 328.1 L121.8 323.0 L122.2 323.0 L123.6 323.0 L125.3 321.3 L126.8 321.3 L128.0 326.4 L129.0 324.7 L129.8 326.4 L130.5 329.8 L131.6 329.8 L132.2 326.4 L132.7 323.0 L133.2 324.7 L134.0 323.0 L134.3 324.7 L134.5 328.1 L134.7 328.1 L134.9 329.8 L135.2 331.5 L135.3 326.4 L135.4 326.4 L135.6 323.0 L135.7 324.7 L135.7 329.8 L135.9 328.1 L136.5 331.5 L137.2 328.1 L137.9 328.1 L138.8 326.4 L140.0 324.7 L141.4 323.0 L142.9 326.4 L143.9 326.4 L144.6 329.8 L145.5 328.1 L146.6 329.8 L146.9 326.4 L147.1 324.7 L147.3 323.0 L147.5 323.0 L147.8 319.6 L149.0 321.3 L149.7 321.3 L150.5 324.7 L151.7 323.0 L152.5 323.0 L153.1 319.6 L153.6 319.6 L154.4 316.2 L155.6 319.6 L156.1 319.6 L156.5 323.0 L156.9 323.0 L157.2 326.4 L157.4 326.4 L157.5 328.1 L157.6 331.5 L157.8 329.8 L157.9 331.5 L158.0 326.4 L158.1 326.4 L158.2 323.0 L158.4 324.7 L158.5 324.7 L158.6 324.7 L158.6 328.1 L158.7 331.5 L159.0 329.8 L159.1 329.8 L159.1 328.1 L159.2 324.7 L159.3 324.7 L159.5 321.3 L159.9 321.3 L161.4 321.3 L163.0 319.6 L163.8 323.0 L164.3 321.3 L165.8 324.7 L167.5 321.3 L169.1 324.7 L169.9 323.0 L170.4 326.4 L170.9 326.4 L171.3 328.1 L171.5 331.5 L171.7 331.5 L171.8 334.9 L172.0 334.9 L172.2 338.3 L172.4 334.9 L172.5 334.9 L172.6 331.5 L172.7 329.8 L172.9 329.8 L173.1 329.8 L173.2 331.5 L173.3 334.9 L173.4 334.9 L173.6 336.6 L173.6 333.2 L173.6 333.2 L173.6 329.8 L173.8 328.1 L174.1 328.1 L175.0 324.7 L176.6 324.7 L178.2 326.4 L179.8 323.0 L181.5 324.7 L182.9 323.0 L183.7 328.1 L184.1 326.4 L184.3 328.1 L184.4 333.2 L184.5 331.5 L184.6 336.6 L184.6 334.9 L184.6 340.0 L184.7 338.3 L185.0 340.0 L185.1 336.6 L185.2 336.6 L185.3 333.2 L185.4 333.2 L185.6 333.2 L185.7 333.2 L185.8 336.6 L185.9 336.6 L186.0 340.0 L186.3 338.3 L186.4 336.6 L186.4 336.6 L186.5 334.9 L186.7 331.5 L187.1 329.8 L188.6 329.8 L189.7 331.5 L190.0 331.5 L190.1 334.9 L190.2 334.9 L190.2 340.0 L190.2 338.3 L190.2 343.4 L190.2 341.7 L190.2 346.8 L190.1 345.1 L190.3 348.5 L190.4 345.1 L190.5 345.1 L190.6 341.7 L190.7 341.7 L190.8 338.3 L191.0 340.0 L191.1 341.7 L191.1 341.7 L191.2 345.1 L191.3 345.1 L191.5 348.5 L191.9 345.1 L192.2 343.4 L192.4 345.1 L192.7 340.0 L193.5 341.7 L194.3 341.7 L194.8 345.1 L195.4 343.4 L196.1 348.5 L196.9 346.8 L197.8 350.2 L198.9 350.2 L199.9 353.6 L201.0 353.6 L202.3 355.3 L203.4 355.3 L204.4 358.7 L205.6 358.7 L206.6 360.4 L207.7 360.4 L208.8 362.1 L210.0 363.8 L211.3 365.5 L212.7 367.2 L214.1 365.5 L215.5 368.9 L216.8 368.9 L217.9 370.6 L218.8 370.6 L219.6 374.0 L220.3 374.0 L221.0 377.4 L221.6 377.4 L222.3 380.8 L223.1 380.8 L224.0 384.2 L225.2 384.2 L226.7 385.9 L228.4 384.2 L230.0 387.6 L231.6 387.6 L233.0 387.6 L234.1 387.6 L235.2 391.0 L236.2 392.7 L237.2 392.7 L238.2 396.1 L239.2 396.1 L240.3 397.8 L241.2 399.5 L242.1 399.5 L243.0 401.2 L244.0 402.9 L244.9 404.6 L245.9 406.3 L247.0 408.0 L248.3 408.0 L250.0 409.7 L251.3 406.3 L252.3 406.3 L253.4 402.9 L254.5 404.6 L255.6 401.2 L256.6 399.5 L257.7 399.5 L258.7 396.1 L259.7 396.1 L260.8 394.4 L261.9 394.4 L263.0 391.0 L264.1 389.3 L265.2 391.0 L266.5 387.6 L267.9 387.6 L269.3 385.9 L271.0 387.6 L272.7 387.6 L274.2 385.9 L275.7 389.3 L277.3 387.6 L278.8 391.0 L280.5 389.3 L282.1 392.7 L283.8 389.3 L285.1 389.3 L286.3 389.3 L287.9 385.9 L289.6 387.6 L291.4 387.6 L292.9 385.9 L294.6 385.9 L296.2 384.2 L298.0 385.9 L299.8 384.2 L301.5 385.9 L303.1 385.9 L304.8 387.6 L306.3 387.6 L307.9 389.3 L309.5 389.3 L311.2 391.0 L312.7 392.7 L314.2 391.0 L315.7 394.4 L317.3 392.7 L319.1 394.4 L320.7 392.7 L321.7 392.7 L322.5 391.0 L323.1 389.3 L323.9 387.6 L324.8 385.9 L326.5 384.2 L328.1 385.9 L329.8 384.2 L330.9 387.6 L331.5 389.3 L332.0 389.3 L332.3 392.7 L332.6 392.7 L332.9 396.1 L333.2 396.1 L333.5 399.5 L333.9 399.5 L334.2 401.2 L334.5 404.6 L334.8 404.6 L335.1 408.0 L335.4 408.0 L335.9 409.7 L336.9 413.1 L338.0 409.7 L338.9 409.7 L339.7 408.0 L340.7 408.0 L342.5 406.3 L344.0 408.0 L345.6 406.3 L346.7 406.3 L347.6 402.9 L348.4 402.9 L349.4 401.2 L350.5 399.5 L352.0 399.5 L353.2 399.5 L354.4 401.2 L355.6 404.6 L357.0 402.9 L358.0 402.9 L358.6 399.5 L359.2 399.5 L359.7 397.8 L360.2 394.4 L360.7 394.4 L361.2 392.7 L361.8 391.0 L362.6 387.6 L363.5 387.6 L364.5 384.2 L365.5 384.2 L366.5 382.5 L367.6 382.5 L368.8 380.8 L370.0 377.4 L371.4 379.1 L372.9 375.7 L374.5 377.4 L376.1 374.0 L377.9 374.0 L379.5 374.0 L381.1 374.0 L382.7 374.0 L384.4 374.0 L386.1 372.3 L387.9 374.0 L389.7 374.0 L391.6 372.3 L393.4 374.0 L395.2 372.3 L397.0 372.3 L398.8 372.3 L400.5 372.3 L402.4 372.3 L404.2 370.6 L406.0 372.3 L407.8 370.6 L409.5 372.3 L411.2 370.6 L412.9 370.6 L414.5 370.6 L416.2 368.9 L417.9 368.9 L419.4 367.2 L420.9 367.2 L422.5 365.5 L424.0 365.5 L425.6 363.8 L427.3 363.8 L428.8 362.1 L430.5 363.8 L432.1 360.4 L433.8 362.1 L435.6 360.4 L437.3 360.4 L439.1 360.4 L440.8 360.4 L442.5 358.7 L444.1 358.7 L445.8 357.0 L447.5 357.0 L449.1 357.0 L450.8 355.3 L452.4 357.0 L454.2 355.3 L455.7 355.3 L457.2 353.6 L458.5 353.6 L459.5 351.9 L460.3 351.9 L460.9 348.5 L461.3 348.5 L461.8 345.1 L462.8 345.1 L463.5 346.8 L463.9 346.8 L464.4 350.2 L464.8 350.2 L465.3 351.9 L465.9 355.3 L466.8 353.6 L467.2 351.9 L467.5 350.2 L467.8 350.2 L468.2 346.8 L469.3 346.8 L470.0 346.8 L470.6 350.2 L471.2 350.2 L472.3 351.9 L473.9 353.6 L475.2 350.2 L476.3 350.2 L477.6 348.5 L478.9 348.5 L480.2 346.8 L481.7 345.1 L483.1 345.1 L484.6 341.7 L486.1 343.4 L487.7 341.7 L489.3 341.7 L490.9 338.3 L492.5 340.0 L494.1 336.6 L495.7 338.3 L497.2 334.9 L498.8 334.9 L500.3 334.9 L501.9 333.2 L503.4 333.2 L505.0 333.2 L506.6 331.5 L508.2 331.5 L509.8 331.5 L511.5 328.1 L513.2 329.8 L514.9 328.1 L516.7 329.8 L518.4 328.1 L520.1 328.1 L521.9 326.4 L523.6 328.1 L525.2 326.4 L526.7 324.7 L528.2 324.7 L529.7 323.0 L531.1 323.0 L532.5 321.3 L534.0 321.3 L535.4 319.6 L536.9 317.9 L538.3 316.2 L539.8 317.9 L541.3 314.5 L542.9 314.5 L544.4 312.8 L546.0 312.8 L547.6 311.1 L549.1 311.1 L550.7 309.4 L552.2 309.4 L553.7 307.7 L555.3 309.4 L556.9 307.7 L558.5 309.4 L560.2 307.7 L561.8 309.4 L563.6 307.7 L565.3 309.4 L566.8 307.7 L567.9 306.0 L568.7 304.3 L569.3 304.3 L569.9 300.9 L570.6 299.2 L571.3 299.2 L571.9 295.8 L572.6 295.8 L573.5 292.4 L574.6 292.4 L575.8 290.7 L577.0 289.0 L578.2 289.0 L579.1 285.6 L580.1 285.6 L581.2 283.9 L582.4 283.9 L584.1 282.2 L585.8 283.9 L587.4 283.9 L588.8 282.2 L589.3 280.5 L589.8 278.8 L591.4 278.8 L593.0 278.8 L594.5 280.5 L595.2 277.1 L595.6 277.1 L596.0 273.7 L596.5 273.7 L597.2 270.3 L598.2 270.3 L599.4 266.9 L600.1 268.6 L600.8 265.2 L601.7 266.9 L602.3 263.5 L603.0 263.5 L603.6 261.8 L604.2 263.5 L604.9 261.8 L605.8 258.4 L606.9 260.1 L608.0 258.4 L609.0 261.8 L610.1 258.4 L611.0 261.8 L611.9 263.5 L612.4 261.8 L612.8 263.5 L613.0 266.9 L613.2 265.2 L613.3 266.9 L613.5 268.6 L613.7 268.6 L613.8 272.0 L614.1 271.6 L614.3 272.8 L614.6 274.0 L614.9 275.2 L615.2 276.4 L615.4 277.4 L615.6 278.4 L615.9 279.4 L616.1 280.4 L616.2 281.5 L616.4 282.6 L616.5 283.7 L616.7 284.9 L616.8 286.0 L616.9 287.3 L617.0 288.5 L617.1 289.5 L617.1 290.5 L617.2 291.5 L617.3 292.6 L617.3 293.6 L617.4 294.6 L617.4 295.7 L617.5 296.8 L617.5 297.8 L617.5 298.9 L617.6 299.9 L617.6 301.0 L617.6 302.2 L617.6 303.2 L617.6 304.3 L617.6 305.3 L617.6 306.4 L617.6 307.5 L617.5 308.6 L617.5 309.7 L617.5 310.8 L617.4 311.9 L617.4 313.0 L617.4 314.1 L617.3 315.1 L617.3 316.2 L617.3 317.2 L617.3 318.4 L617.3 319.6 L617.4 320.7 L617.4 321.8 L617.5 323.0 L617.7 324.1 L618.0 325.2 L618.4 326.3 L618.9 327.3 L619.3 328.5 L619.5 329.6 L619.7 330.6 L619.8 331.6 L619.9 332.7 L619.9 333.9 L619.9 334.9 L619.9 336.0 L619.9 337.1 L619.9 338.2 L619.9 339.3 L619.8 340.5 L619.8 341.7 L619.8 342.8 L619.8 344.0 L619.7 345.2 L619.7 346.3 L619.7 347.4 L619.7 348.5 L619.7 349.6 L619.7 350.6 L619.7 351.8 L619.8 352.9 L619.9 353.9 L620.1 354.9 L620.3 356.1 L620.7 357.0 L621.1 358.1 L621.5 359.2 L621.8 360.1 L622.0 361.2 L622.1 362.3 L622.2 363.5 L622.2 364.5 L622.2 365.6 L622.2 366.7 L622.2 367.9 L622.1 369.0 L622.1 370.2 L622.1 371.3 L622.1 372.4 L622.1 373.5 L622.1 374.7 L622.2 375.8 L622.4 376.8 L622.7 377.8 L623.4 378.8 L624.0 379.9 L624.2 380.9 L624.3 382.0 L624.4 383.2 L624.3 384.3 L624.3 385.4 L624.3 386.6 L624.2 387.7 L624.2 388.9 L624.2 390.0 L624.2 391.0 L624.3 392.2 L624.5 393.3 L624.8 394.3 L625.4 395.3 L625.9 396.4 L626.3 397.5 L626.5 398.5 L626.7 399.6 L626.7 400.7 L626.8 401.9 L626.8 402.9 L626.8 403.9 L626.8 405.0 L626.8 406.1 L626.8 407.3 L626.7 408.4 L626.7 409.6 L626.7 410.7 L626.7 411.9 L626.6 413.0 L626.6 414.1 L626.6 415.2 L626.6 416.3 L626.6 417.5 L626.7 418.7 L626.7 419.7 L626.9 420.9 L627.1 422.0 L627.3 423.2 L627.6 424.3 L627.9 425.4 L628.2 426.6 L628.3 427.7 L628.5 428.9 L628.5 429.9 L628.6 431.1 L628.6 432.3 L628.6 433.5 L628.7 434.6 L628.7 435.6 L628.6 436.7 L628.6 437.8 L628.6 438.9 L628.6 440.0 L628.6 441.1 L628.6 442.2 L628.6 443.2 L628.6 444.3 L628.6 445.3 L628.6 446.4 L628.6 447.6 L628.7 448.8 L628.7 449.9 L628.8 451.1 L628.9 452.4 L629.0 453.4 L629.0 454.4 L629.1 455.4 L629.2 456.7 L629.3 458.0 L629.4 459.1 L629.5 460.2 L629.6 461.3 L629.8 462.3 L630.2 462.0 L630.4 460.8 L630.5 459.8 L630.6 458.7 L630.7 457.4 L630.7 456.4 L630.8 455.4 L630.9 454.3 L631.0 453.3 L631.1 452.1 L631.3 450.9 L631.4 449.8 L631.7 448.7 L632.0 447.7 L632.5 446.7 L633.0 445.5 L633.3 444.3 L633.5 443.2 L633.5 442.1 L633.6 441.1 L633.6 439.9 L633.7 438.7 L633.7 437.7 L633.7 436.6 L633.7 435.5 L633.7 434.3 L633.6 433.2 L633.6 432.0 L633.6 430.8 L633.6 429.6 L633.5 428.3 L633.5 427.1 L633.5 425.9 L633.5 424.7 L633.4 423.5 L633.4 422.3 L633.4 421.2 L633.4 420.1 L633.4 419.0 L633.4 418.0 L633.4 416.7 L633.4 415.6 L633.4 414.5 L633.5 413.4 L633.6 412.3 L633.8 411.1 L634.2 410.0 L634.5 409.1 L634.8 408.1 L635.0 407.0 L635.0 405.9 L635.1 404.8 L635.1 403.7 L635.1 402.6 L635.1 401.3 L635.1 400.3 L635.1 399.2 L635.1 398.1 L635.1 397.0 L635.1 395.8 L635.0 394.6 L635.0 393.4 L635.0 392.2 L634.9 391.0 L634.9 389.8 L634.9 388.6 L634.9 387.4 L634.8 386.2 L634.8 385.1 L634.8 384.0 L634.8 382.9 L634.8 381.8 L634.8 380.8 L634.9 379.5 L634.9 378.4 L635.0 377.4 L635.1 376.2 L635.3 375.1 L635.5 373.9 L635.9 372.9 L636.3 371.9 L636.8 370.8 L637.1 369.9 L637.3 368.8 L637.5 367.7 L637.7 366.6 L637.8 365.5 L638.0 364.3 L638.1 363.1 L638.2 362.1 L638.3 361.1 L638.3 360.0 L638.4 359.0 L638.5 357.9 L638.5 356.8 L638.6 355.7 L638.7 354.6 L638.7 353.5 L638.8 352.5 L638.8 351.4 L638.9 350.3 L638.9 349.3 L639.0 348.1 L639.0 347.0 L639.0 345.9 L639.0 344.8 L638.9 343.7 L638.9 342.6 L638.9 341.4 L638.8 340.3 L638.8 339.2 L638.8 338.0 L638.8 336.9 L638.7 335.8 L638.7 334.7 L638.7 333.6 L638.7 332.6 L638.7 331.4 L638.8 330.2 L638.8 329.2 L639.0 328.0 L639.1 327.0 L639.5 325.7 L639.9 324.8 L640.4 323.7 L641.0 322.8 L641.6 323.3 L641.7 324.5 L641.7 325.7 L641.7 327.1 L641.8 328.4 L641.9 329.6 L642.1 330.7 L642.7 331.5 L643.4 332.4 L643.8 333.4 L644.0 334.6 L644.1 335.6 L644.2 336.7 L644.2 337.7 L644.2 338.8 L644.2 339.9 L644.2 341.0 L644.2 342.2 L644.2 343.4 L644.2 344.6 L644.1 345.9 L644.1 347.1 L644.1 348.2 L644.0 349.4 L644.0 350.5 L644.0 351.5 L644.0 352.8 L644.0 353.9 L644.0 355.0 L644.1 356.2 L644.2 357.3 L644.3 358.4 L644.4 359.5 L644.5 360.7 L644.5 361.8 L644.6 362.8 L644.6 364.0 L644.7 365.0 L644.7 366.1 L644.7 367.2 L644.8 368.4 L644.8 369.7 L644.8 370.7 L644.8 371.7 L644.9 372.8 L644.9 373.8 L644.9 374.9 L644.9 376.0 L645.0 377.1 L645.0 378.3 L645.0 379.4 L645.0 380.5 L645.1 381.6 L645.1 382.8 L645.1 383.9 L645.1 385.0 L645.1 386.1 L645.2 387.2 L645.2 388.3 L645.2 389.4 L645.2 390.5 L645.3 391.5 L645.3 392.5 L645.3 393.5 L645.3 394.5 L645.4 395.6 L645.4 396.6 L645.4 397.6 L645.4 398.7 L645.4 399.7 L645.5 400.7 L645.5 401.8 L645.5 402.8 L645.5 403.9 L645.5 404.9 L645.6 406.0 L645.6 407.0 L645.6 408.0 L645.6 409.1 L645.6 410.1 L645.7 411.1 L645.7 412.1 L645.7 413.2 L645.7 414.4 L645.8 415.6 L645.8 416.9 L645.8 418.0 L645.9 419.2 L645.9 420.4 L646.0 421.5 L646.1 422.6 L646.1 423.8 L646.2 424.9 L646.3 426.0 L646.4 427.1 L646.4 428.1 L646.5 429.1 L646.6 430.1 L646.8 431.4 L646.9 432.6 L647.0 433.8 L647.2 435.0 L647.3 436.2 L647.4 437.4 L647.5 438.6 L647.6 439.8 L647.7 441.0 L647.8 442.1 L647.8 443.2 L647.8 444.4 L647.8 445.7 L647.8 446.9 L647.8 448.2 L647.7 449.5 L647.7 450.7 L647.7 451.9 L647.7 453.0 L647.8 454.0 L647.9 455.1 L648.0 456.1 L648.7 457.1 L649.8 456.9 L650.6 456.1 L650.9 455.0 L651.0 454.0 L651.0 452.9 L651.0 451.8 L651.0 450.6 L650.9 449.4 L650.9 448.1 L650.8 446.8 L650.7 445.6 L650.7 444.4 L650.7 443.3 L650.7 442.1 L650.9 441.0 L651.3 440.0 L652.0 439.0 L652.4 438.1 L652.6 437.1 L652.7 436.1 L652.8 435.0 L652.8 434.0 L652.8 432.9 L652.7 431.8 L652.7 430.6 L652.6 429.4 L652.6 428.3 L652.5 427.1 L652.5 426.0 L652.5 424.9 L652.5 423.9 L652.5 422.7 L652.6 421.6 L652.8 420.5 L653.1 419.5 L653.4 418.4 L653.7 417.2 L654.0 416.0 L654.1 415.0 L654.2 414.0 L654.1 412.9 L654.1 411.7 L654.0 410.5 L653.9 409.4 L653.9 408.3 L654.0 407.1 L654.2 406.1 L655.0 405.1 L655.9 404.4 L656.9 404.1 L657.8 404.8 L658.3 405.9 L658.6 406.9 L658.8 407.9 L659.2 409.1 L659.8 409.9 L660.2 409.0 L660.5 407.9 L660.8 406.6 L661.0 405.3 L661.3 404.2 L661.6 403.2 L662.1 402.1 L662.5 401.0 L662.8 400.0 L663.0 398.7 L663.0 397.5 L663.0 396.4 L663.0 395.3 L662.9 394.2 L662.9 393.1 L662.9 392.0 L663.0 390.8 L663.2 389.8 L663.7 388.9 L664.5 388.0 L665.1 387.1 L665.4 386.1 L665.6 385.0 L665.6 383.8 L665.6 382.7 L665.5 381.5 L665.5 380.3 L665.4 379.2 L665.3 378.0 L665.3 376.9 L665.3 375.9 L665.4 374.7 L665.7 373.5 L666.2 372.6 L667.0 371.7 L667.6 370.9 L667.9 369.7 L668.1 368.5 L668.1 367.4 L668.2 366.3 L668.2 365.2 L668.3 364.1 L668.6 363.1 L668.9 362.0 L669.2 360.9 L669.6 359.8 L670.0 358.8 L670.6 358.0 L671.6 357.7 L672.6 358.1 L673.4 358.7 L673.8 359.8 L673.9 361.0 L674.1 362.3 L674.2 363.6 L674.3 364.7 L674.8 365.7 L675.7 365.6 L676.5 364.9 L677.4 363.9 L678.3 363.1 L679.1 362.4 L680.1 361.8 L681.0 361.3 L682.1 361.0 L683.3 361.4 L684.1 362.1 L684.8 363.1 L685.1 364.3 L685.2 365.3 L685.3 366.5 L685.4 367.7 L685.6 368.8 L685.8 369.8 L686.3 370.8 L687.0 371.5 L688.0 372.3 L688.6 373.1 L688.8 374.2 L689.0 375.2 L689.1 376.5 L689.1 377.6 L689.1 378.7 L689.1 379.9 L689.1 381.1 L689.0 382.3 L689.0 383.5 L689.0 384.7 L689.0 385.8 L689.0 386.9 L689.1 388.1 L689.2 389.1 L689.4 390.1 L689.8 391.0 L690.5 391.9 L690.9 393.0 L691.1 394.0 L691.2 395.0 L691.3 396.2 L691.3 397.2 L691.3 398.3 L691.3 399.5 L691.3 400.7 L691.3 401.9 L691.3 403.1 L691.3 404.3 L691.3 405.5 L691.3 406.7 L691.3 407.8 L691.3 408.8 L691.4 410.0 L691.5 411.1 L691.7 412.2 L692.0 413.2 L692.6 414.2 L693.2 415.2 L693.5 416.3 L693.6 417.3 L693.6 418.5 L693.6 419.6 L693.6 420.8 L693.7 421.9 L693.8 422.9 L694.0 424.0 L694.6 425.1 L695.4 425.8 L696.1 425.2 L696.4 424.0 L696.6 423.1 L696.9 421.8 L697.5 420.8 L698.5 420.4 L699.5 420.3 L700.5 420.8 L701.2 421.6 L701.5 422.6 L701.7 423.9 L701.7 425.0 L701.7 426.2 L701.7 427.4 L701.8 428.5 L702.0 429.6 L702.6 430.5 L703.6 431.2 L703.9 432.3 L704.1 433.3 L704.1 434.5 L704.2 435.6 L704.2 436.7 L704.2 437.9 L704.1 439.1 L704.1 440.3 L704.2 441.4 L704.2 442.5 L704.4 443.7 L704.7 444.9 L705.0 446.2 L705.4 447.4 L705.9 448.4 L706.5 449.3 L707.5 449.3 L708.5 448.5 L709.2 447.6 L709.8 446.5 L710.3 445.4 L710.5 444.3 L710.6 443.2 L710.7 442.1 L710.7 441.0 L710.7 439.9 L710.6 438.7 L710.6 437.5 L710.6 436.4 L710.6 435.2 L710.6 434.2 L710.7 433.0 L710.8 431.9 L711.2 430.7 L711.6 429.8 L712.3 428.8 L712.9 427.8 L713.3 426.7 L713.5 425.7 L713.7 424.4 L713.8 423.3 L713.9 422.1 L713.9 420.9 L714.0 419.7 L714.0 418.4 L714.1 417.2 L714.2 416.1 L714.2 415.0 L714.4 413.9 L714.7 412.8 L715.3 411.8 L716.3 411.4 L716.9 412.2 L717.1 413.4 L717.3 414.6 L717.4 416.0 L717.5 417.3 L717.6 418.5 L717.8 419.5 L718.3 420.6 L719.0 421.6 L719.9 421.7 L720.1 420.7 L720.2 419.6 L720.3 418.5 L720.3 417.4 L720.3 416.3 L720.3 415.1 L720.3 413.9 L720.2 412.5 L720.2 411.5 L720.2 410.5 L720.2 409.5 L720.2 408.5 L720.1 407.4 L720.1 406.4 L720.1 405.1 L720.1 403.8 L720.1 402.6 L720.1 401.5 L720.2 400.5 L720.3 399.3 L720.4 398.2 L720.7 397.1 L721.1 396.2 L721.6 395.2 L722.5 394.9 L723.2 396.0 L723.5 397.1 L723.7 398.3 L723.8 399.5 L723.8 400.6 L723.9 401.8 L723.9 402.8 L723.9 403.9 L723.9 405.0 L723.9 406.2 L723.9 407.3 L723.9 408.5 L723.9 409.7 L723.9 411.0 L723.9 412.2 L723.9 413.4 L723.9 414.6 L723.9 415.7 L724.0 416.9 L724.0 418.0 L724.0 419.2 L724.1 420.4 L724.1 421.4 L724.1 422.4 L724.1 423.5 L724.2 424.5 L724.2 425.6 L724.2 426.8 L724.2 427.9 L724.2 429.0 L724.2 430.1 L724.3 431.3 L724.3 432.4 L724.3 433.6 L724.3 434.7 L724.3 435.8 L724.4 436.9 L724.4 438.0 L724.4 439.1 L724.5 440.2 L724.5 441.2 L724.5 442.2 L724.6 443.5 L724.6 444.6 L724.7 445.8 L724.8 446.8 L724.9 448.0 L725.0 449.1 L725.2 450.4 L725.3 451.4 L725.5 452.5 L725.8 453.7 L726.0 454.8 L726.5 455.7 L727.1 454.8 L727.5 453.8 L727.7 452.7 L728.0 451.5 L728.2 450.2 L728.4 449.2 L728.6 448.2 L728.8 446.9 L728.9 445.9 L729.0 444.8 L729.1 443.6 L729.2 442.5 L729.2 441.5 L729.3 440.3 L729.3 439.2 L729.3 438.0 L729.4 436.8 L729.4 435.7 L729.4 434.5 L729.4 433.3 L729.5 432.1 L729.5 431.0 L729.6 429.9 L729.6 428.8 L729.7 427.7 L729.8 426.5 L729.9 425.4 L730.0 424.4 L730.2 423.4 L730.6 422.1 L731.1 421.2 L731.7 420.2 L732.5 419.6 L733.0 420.4 L733.2 421.4 L733.4 422.4 L733.5 423.6 L733.6 424.8 L733.7 426.1 L733.8 427.4 L733.9 428.7 L734.0 429.9 L734.1 431.0 L734.2 432.2 L734.2 433.2 L734.3 434.3 L734.3 435.4 L734.3 436.6 L734.3 437.7 L734.3 438.9 L734.3 440.1 L734.3 441.2 L734.3 442.3 L734.3 443.4 L734.3 444.5 L734.4 445.7 L734.4 446.7 L734.6 447.9 L734.9 449.2 L735.3 450.4 L735.9 451.3 L736.7 450.7 L737.4 449.7 L737.9 448.5 L738.2 447.5 L738.4 446.3 L738.6 445.3 L738.7 444.2 L738.8 443.1 L738.9 442.1 L739.1 441.0 L739.3 440.0 L739.6 439.0 L739.9 438.0 L740.2 437.0 L740.6 436.0 L740.9 435.0 L741.2 434.1 L741.5 432.9 L741.7 431.9 L741.8 430.8 L741.9 429.7 L742.0 428.6 L742.1 427.6 L742.3 426.4 L742.7 425.3 L743.3 424.3 L743.8 423.4 L744.1 422.2 L744.3 421.1 L744.3 420.1 L744.4 419.0 L744.4 417.8 L744.4 416.6 L744.4 415.4 L744.5 414.3 L744.5 413.3 L744.7 412.2 L745.0 411.0 L745.5 410.1 L746.1 409.1 L746.5 408.2 L746.7 407.0 L746.7 406.0 L746.8 404.9 L746.9 403.8 L747.0 402.7 L747.3 401.8 L747.7 400.8 L748.2 399.9 L748.7 399.0 L749.2 398.1 L749.7 396.9 L749.8 395.8 L749.9 394.6 L749.9 393.6 L750.3 392.5 L751.3 392.2 L752.4 392.4 L753.6 392.5 L754.6 392.3 L754.9 391.1 L755.2 390.0 L755.6 389.0 L756.1 387.8 L756.6 386.9 L757.0 385.8 L757.4 384.8 L757.7 383.8 L757.9 382.6 L758.0 381.4 L758.1 380.4 L758.1 379.3 L758.2 378.3 L758.3 377.3 L758.4 376.3 L758.5 375.2 L758.6 374.2 L758.7 373.1 L758.8 372.0 L758.9 371.0 L759.1 369.9 L759.4 368.7 L759.8 367.7 L760.5 366.6 L761.3 365.7 L762.1 364.9 L763.0 364.3 L764.0 364.1 L764.8 364.7 L765.4 365.6 L766.0 366.7 L766.7 367.6 L767.7 368.3 L768.7 368.4 L769.8 368.4 L770.8 368.6 L771.6 369.3 L772.1 370.3 L772.4 371.5 L772.7 372.5 L772.9 373.6 L773.2 374.8 L773.5 375.8 L773.8 376.8 L774.2 377.9 L774.5 379.1 L774.9 380.4 L775.3 381.6 L775.7 382.8 L776.1 383.9 L776.5 385.0 L777.1 385.8 L778.0 385.1 L778.3 384.1 L778.6 383.1 L778.9 381.9 L779.2 380.6 L779.5 379.4 L779.8 378.1 L780.0 377.0 L780.3 376.0 L780.5 374.9 L780.8 373.7 L781.0 372.5 L781.2 371.5 L781.4 370.5 L781.6 369.5 L781.7 368.5 L781.9 367.4 L782.1 366.4 L782.3 365.3 L782.4 364.2 L782.6 363.2 L782.8 362.1 L782.9 361.1 L783.1 360.0 L783.2 359.0 L783.4 358.0 L783.5 357.0 L783.7 356.0 L783.8 354.9 L783.9 353.9 L784.1 352.8 L784.2 351.8 L784.3 350.7 L784.4 349.7 L784.6 348.6 L784.7 347.6 L784.8 346.6 L784.9 345.5 L785.0 344.5 L785.2 343.3 L785.3 342.1 L785.5 341.0 L785.6 339.8 L785.8 338.6 L785.9 337.4 L786.1 336.1 L786.2 335.1 L786.3 333.8 L786.5 332.5 L786.6 331.4 L786.8 330.2 L787.1 329.2 L787.6 329.3 L787.9 330.2 L788.1 331.3 L788.4 332.5 L788.5 333.6 L788.7 334.6 L788.9 335.7 L789.0 336.7 L789.1 337.7 L789.2 338.9 L789.3 340.0 L789.4 341.1 L789.5 342.3 L789.5 343.5 L789.6 344.5 L789.6 345.6 L789.7 346.6 L789.7 347.7 L789.8 348.8 L789.8 349.9 L789.9 351.0 L789.9 352.1 L789.9 353.3 L790.0 354.4 L790.0 355.6 L790.1 356.7 L790.1 357.8 L790.1 359.0 L790.2 360.1 L790.2 361.2 L790.2 362.3 L790.3 363.4 L790.3 364.4 L790.3 365.4 L790.4 366.4 L790.4 367.7 L790.5 368.8 L790.5 370.0 L790.6 371.1 L790.6 372.2 L790.6 373.2 L790.7 374.2 L790.7 375.5 L790.8 376.7 L790.8 377.9 L790.9 379.1 L790.9 380.3 L791.0 381.4 L791.0 382.6 L791.1 383.8 L791.1 385.0 L791.2 386.0 L791.2 387.1 L791.2 388.1 L791.3 389.2 L791.4 390.4 L791.4 391.6 L791.5 392.6 L791.5 393.6 L791.6 394.6 L791.6 395.7 L791.6 396.8 L791.7 397.9 L791.7 399.0 L791.8 400.1 L791.9 401.2 L791.9 402.4 L792.0 403.5 L792.0 404.6 L792.1 405.7 L792.1 406.8 L792.2 407.9 L792.2 408.9 L792.3 410.0 L792.4 411.0 L792.4 412.2 L792.5 413.4 L792.6 414.5 L792.7 415.6 L792.8 416.8 L792.9 417.8 L793.0 419.0 L793.1 420.0 L793.2 421.1 L793.4 422.4 L793.5 423.5 L793.7 424.6 L794.2 425.0 L794.5 424.0 L794.8 422.9 L795.0 421.7 L795.2 420.7 L795.3 419.7 L795.5 418.7 L795.7 417.6 L795.8 416.5 L795.9 415.5 L796.0 414.4 L796.2 413.2 L796.3 412.0 L796.4 410.8 L796.4 409.8 L796.5 408.7 L796.6 407.7 L796.7 406.6 L796.7 405.5 L796.8 404.4 L796.9 403.4 L797.0 402.3 L797.1 401.2 L797.1 400.1 L797.2 399.0 L797.3 397.9 L797.4 396.8 L797.5 395.8 L797.6 394.8 L797.7 393.8 L797.8 392.8 L798.0 391.8 L798.1 390.8 L798.2 389.7 L798.3 388.7 L798.5 387.7 L798.6 386.7 L798.7 385.7 L798.9 384.7 L799.0 383.6 L799.1 382.6 L799.3 381.6 L799.4 380.6 L799.6 379.6 L799.7 378.6 L799.8 377.6 L800.0 376.4 L800.2 375.1 L800.4 373.9 L800.5 372.7 L800.7 371.6 L800.8 370.4 L801.0 369.2 L801.1 368.1 L801.2 367.0 L801.3 365.8 L801.4 364.7 L801.5 363.6 L801.5 362.5 L801.6 361.4 L801.7 360.3 L801.8 359.2 L801.9 358.2 L802.0 357.2 L802.1 356.0 L802.3 354.8 L802.5 353.8 L802.7 352.7 L803.0 351.7 L803.4 350.7 L803.8 349.8 L804.3 348.8 L805.1 348.0 L805.7 348.9 L805.9 349.9 L806.1 350.9 L806.3 352.0 L806.4 353.3 L806.6 354.6 L806.7 355.9 L806.9 357.2 L807.0 358.4 L807.2 359.5 L807.4 360.5 L807.6 361.7 L807.9 363.0 L808.1 364.0 L808.2 365.0 L808.5 366.3 L808.7 367.4 L809.0 368.4 L809.4 369.4 L810.1 369.2 L810.5 368.2 L810.8 367.1 L811.1 365.8 L811.4 364.5 L811.7 363.3 L812.0 362.2 L812.3 361.1 L812.5 359.9 L812.7 358.9 L813.0 357.6 L813.3 356.7 L813.9 356.1 L814.4 357.1 L814.7 358.2 L815.1 359.4 L815.5 360.6 L815.8 361.7 L816.1 362.8 L816.5 364.1 L816.8 365.3 L817.2 366.3 L817.7 365.9 L818.0 364.8 L818.2 363.7 L818.4 362.4 L818.6 361.3 L818.7 360.2 L818.9 359.1 L819.0 358.0 L819.2 357.0 L819.3 356.0 L819.5 354.8 L819.8 353.7 L820.2 353.0 L820.5 353.9 L820.6 355.0 L820.8 356.0 L820.9 357.2 L821.0 358.4 L821.1 359.7 L821.2 360.7 L821.2 361.7 L821.4 363.1 L821.5 364.3 L821.6 365.5 L821.7 366.5 L821.8 367.6 L822.0 368.9 L822.1 370.2 L822.2 371.2 L822.4 372.5 L822.5 373.7 L822.7 374.9 L822.8 375.9 L823.0 377.0 L823.5 377.2 L823.9 376.0 L824.1 375.0 L824.3 373.7 L824.4 372.7 L824.6 371.7 L824.8 370.7 L824.9 369.5 L825.1 368.5 L825.2 367.4 L825.3 366.2 L825.4 365.0 L825.5 363.9 L825.6 362.9 L825.7 361.8 L825.8 360.7 L825.8 359.6 L825.9 358.5 L826.0 357.3 L826.1 356.2 L826.2 355.2 L826.3 354.1 L826.4 353.1 L826.5 352.1 L826.7 350.9 L826.9 349.7 L827.1 348.6 L827.3 347.5 L827.6 346.5 L827.8 345.5 L828.2 344.3 L828.6 343.2 L828.9 342.1 L829.3 340.9 L829.6 339.7 L829.8 338.7 L829.9 337.6 L830.0 336.4 L830.1 335.2 L830.2 333.9 L830.2 332.6 L830.3 331.4 L830.4 330.3 L830.5 329.2 L830.7 328.2 L831.2 327.2 L832.2 327.7 L833.1 328.6 L833.9 329.4 L834.9 329.3 L835.4 328.3 L835.8 327.1 L836.1 326.1 L836.3 325.1 L836.7 323.9 L837.1 322.9 L837.8 322.2 L838.8 322.9 L839.3 323.7 L839.9 324.8 L840.5 325.9 L841.0 327.1 L841.5 328.3 L841.9 329.2 L842.2 330.3 L842.5 331.4 L842.8 332.5 L843.0 333.7 L843.2 334.7 L843.3 335.8 L843.5 336.8 L843.7 337.9 L843.8 339.0 L844.0 340.2 L844.2 341.2 L844.3 342.3 L844.5 343.4 L844.6 344.6 L844.8 345.8 L844.9 346.8 L845.0 347.8 L845.1 348.9 L845.2 350.0 L845.3 351.1 L845.5 352.2 L845.6 353.3 L845.7 354.4 L845.8 355.5 L845.9 356.6 L846.0 357.7 L846.1 358.8 L846.2 359.8 L846.4 360.9 L846.5 361.9 L846.6 362.9 L846.7 364.2 L846.9 365.3 L847.0 366.4 L847.2 367.5 L847.4 368.7 L847.6 369.9 L847.8 371.0 L848.1 372.0 L848.3 373.1 L848.6 374.1 L848.8 375.3 L849.1 376.4 L849.4 377.5 L849.6 378.6 L849.8 379.9 L849.9 380.9 L850.1 382.0 L850.2 383.2 L850.3 384.2 L850.4 385.3 L850.5 386.3 L850.6 387.3 L850.8 388.5 L850.8 389.5 L850.9 390.7 L851.0 391.8 L851.1 393.1 L851.2 394.4 L851.4 395.7 L851.4 396.7 L851.5 397.7 L851.6 398.7 L851.7 399.7 L851.8 400.7 L851.9 401.7 L852.0 403.0 L852.1 404.3 L852.2 405.5 L852.3 406.7 L852.5 407.8 L852.6 408.8 L852.7 409.9 L852.9 411.0 L853.1 412.0 L853.7 411.9 L853.9 410.9 L854.1 409.7 L854.2 408.5 L854.3 407.5 L854.5 406.3 L854.6 405.1 L854.7 403.9 L854.8 402.6 L854.9 401.3 L855.0 400.3 L855.1 399.3 L855.2 398.3 L855.3 397.0 L855.5 395.7 L855.6 394.4 L855.7 393.2 L855.9 392.1 L856.0 391.1 L856.2 390.1 L856.3 389.0 L856.5 388.0 L856.7 386.9 L856.8 385.8 L857.0 384.8 L857.1 383.7 L857.3 382.7 L857.5 381.7 L857.6 380.6 L857.8 379.6 L858.1 378.4 L858.3 377.2 L858.6 376.1 L858.9 375.0 L859.2 373.9 L859.5 373.0 L859.9 371.9 L860.3 371.0 L860.9 369.9 L861.5 368.8 L862.1 367.8 L862.6 366.6 L863.0 365.7 L863.4 364.7 L863.7 363.6 L863.9 362.4 L864.2 361.2 L864.3 360.2 L864.5 359.2 L864.6 358.2 L864.8 357.1 L864.9 356.1 L865.0 355.0 L865.2 354.0 L865.3 353.0 L865.5 352.0 L865.6 351.0 L865.8 350.0 L866.0 349.0 L866.1 348.0 L866.3 346.8 L866.5 345.5 L866.7 344.3 L866.9 343.1 L867.1 341.9 L867.3 340.9 L867.5 339.9 L867.8 338.9 L868.0 337.9 L868.4 336.7 L868.7 335.5 L869.0 334.5 L869.4 333.5 L869.7 332.5 L870.1 331.5 L870.5 330.5 L870.8 329.5 L871.2 328.5 L871.6 327.5 L872.0 326.6 L872.3 325.6 L872.7 324.4 L873.1 323.3 L873.5 322.2 L873.9 321.0 L874.2 320.0 L874.5 319.0 L874.8 317.8 L875.2 316.7 L875.4 315.5 L875.7 314.3 L875.9 313.3 L876.2 312.1 L876.3 311.1 L876.5 310.0 L876.6 309.0 L876.7 307.9 L876.8 306.8 L876.9 305.7 L877.0 304.7 L877.1 303.6 L877.2 302.6 L877.4 301.5 L877.6 300.4 L877.9 299.1 L878.1 298.2 L878.4 296.9 L878.7 295.8 L879.1 294.9 L879.5 295.6 L879.7 296.8 L879.8 298.0 L880.0 299.3 L880.1 300.3 L880.2 301.6 L880.3 302.8 L880.4 303.9 L880.6 305.1 L880.7 306.4 L880.9 307.7 L881.0 308.9 L881.2 309.9 L881.5 310.8 L881.8 309.8 L882.0 308.7 L882.2 307.6 L882.3 306.3 L882.5 305.0 L882.6 304.0 L882.7 303.0 L882.8 302.0 L882.9 300.7 L883.0 299.5 L883.1 298.5 L883.1 297.4 L883.2 296.2 L883.3 294.9 L883.4 293.6 L883.4 292.3 L883.5 291.3 L883.5 290.3 L883.6 289.0 L883.7 287.7 L883.7 286.4 L883.8 285.3 L883.8 284.2 L883.9 283.0 L883.9 281.9 L884.0 280.9 L884.0 280.4"/>
<path class="c" d="M116.2 448.2 L117.7 447.1 L119.2 448.0 L120.7 448.3 L122.3 447.0 L124.0 448.3 L125.6 447.5 L127.0 448.6 L128.5 447.4 L130.0 448.7 L131.5 447.8 L133.0 449.4 L134.5 448.5 L136.0 450.4 L137.5 447.6 L139.0 451.5 L140.5 449.0 L141.9 451.5 L143.4 449.5 L144.9 452.0 L146.5 449.9 L148.0 452.2 L149.5 453.1 L151.0 450.0 L152.6 452.2 L154.1 449.9 L155.7 451.9 L157.2 448.7 L158.6 449.0 L160.3 451.0 L161.7 448.0 L163.3 450.8 L164.8 447.9 L166.3 451.2 L167.7 446.7 L168.7 448.6 L169.4 444.9 L170.2 445.8 L171.4 442.2 L172.9 444.8 L174.4 442.8 L175.9 445.6 L177.2 443.6 L178.5 447.4 L180.0 444.6 L181.4 448.1 L182.8 446.6 L184.1 450.2 L185.5 447.4 L186.8 448.2 L188.2 451.7 L189.7 449.6 L191.1 452.0 L192.6 452.8 L194.0 450.2 L195.4 454.0 L196.7 451.3 L197.8 452.8 L198.9 453.4 L200.0 457.5 L201.1 456.6 L202.2 459.0 L203.3 459.1 L204.4 461.2 L205.6 462.6 L206.7 462.0 L207.8 463.3 L209.0 465.2 L210.1 465.1 L211.2 466.2 L212.4 468.2 L213.5 468.0 L214.6 470.2 L215.4 470.3 L216.1 471.0 L216.9 471.7 L217.6 472.4 L218.4 473.1 L219.1 473.8 L219.8 474.5 L220.6 475.2 L221.3 475.9 L222.1 476.5 L223.1 477.3 L224.0 478.1 L225.0 478.8 L225.9 479.3 L226.8 479.9 L227.7 480.4 L228.6 480.9 L229.6 481.4 L230.5 481.9 L231.4 482.3 L232.3 482.7 L233.5 483.2 L234.6 483.6 L235.5 483.9 L236.6 484.2 L237.6 484.4 L238.7 484.6 L239.7 484.8 L240.6 485.0 L241.8 485.3 L243.0 485.7 L244.0 486.4 L244.9 487.1 L245.8 487.7 L246.9 488.2 L247.9 488.1 L248.7 487.6 L249.5 486.6 L250.1 485.7 L250.8 484.8 L251.4 483.8 L252.1 482.9 L252.8 482.2 L253.7 481.3 L254.5 480.4 L255.3 479.7 L256.0 478.9 L256.8 478.2 L257.5 477.6 L258.3 476.9 L259.2 476.3 L260.0 475.8 L261.1 475.1 L262.2 474.6 L263.3 474.1 L264.5 473.7 L265.4 473.4 L266.4 473.1 L267.4 472.8 L268.4 472.5 L269.5 472.2 L270.4 471.9 L271.6 471.6 L272.8 471.3 L274.0 471.0 L275.0 470.8 L276.0 470.5 L277.0 470.3 L278.0 470.1 L279.0 469.9 L280.1 469.7 L281.1 469.5 L282.1 469.3 L283.1 469.1 L284.3 468.9 L285.5 468.6 L286.6 468.4 L287.6 468.2 L288.6 467.9 L289.6 467.7 L290.6 467.5 L291.6 467.2 L292.5 467.0 L293.5 466.8 L294.5 466.6 L295.5 466.5 L296.5 466.3 L297.5 466.2 L298.5 466.2 L299.5 466.1 L300.6 466.1 L301.6 466.1 L302.7 466.1 L303.7 466.2 L304.7 466.2 L305.7 466.3 L306.7 466.4 L308.0 466.5 L309.1 466.6 L310.3 466.8 L311.3 467.0 L312.3 467.3 L313.3 467.6 L314.3 468.0 L315.4 468.3 L316.6 468.6 L317.8 468.8 L318.8 468.8 L319.8 468.7 L320.8 468.6 L321.8 468.5 L323.0 468.2 L324.2 467.8 L325.2 467.3 L326.2 466.6 L327.1 466.0 L328.1 465.5 L329.1 465.6 L330.0 466.3 L330.7 467.1 L331.3 468.0 L331.9 469.0 L332.5 470.0 L333.0 471.1 L333.4 472.2 L333.8 473.4 L334.2 474.6 L334.5 475.7 L334.9 476.8 L335.4 477.9 L336.0 478.7 L337.1 478.4 L337.7 477.5 L338.5 476.5 L339.2 475.5 L340.2 474.9 L341.4 475.1 L342.4 475.4 L343.4 475.7 L344.5 475.8 L345.5 475.3 L346.4 474.7 L347.2 474.0 L348.1 473.2 L348.9 472.5 L349.8 471.9 L350.8 471.3 L352.0 471.3 L352.9 471.7 L353.9 472.2 L354.8 472.7 L356.0 473.0 L357.0 472.7 L358.0 472.1 L358.7 471.4 L359.5 470.7 L360.3 469.9 L361.0 469.1 L361.9 468.4 L362.7 467.9 L363.8 467.3 L364.8 466.8 L365.9 466.3 L367.1 465.8 L368.1 465.5 L369.1 465.2 L370.2 465.0 L371.2 464.8 L372.2 464.6 L373.3 464.4 L374.5 464.3 L375.7 464.2 L376.9 464.1 L377.9 464.0 L379.0 463.9 L380.0 463.9 L381.1 463.8 L382.2 463.7 L383.2 463.7 L384.3 463.6 L385.4 463.6 L386.5 463.5 L387.6 463.4 L388.7 463.4 L389.7 463.3 L390.9 463.2 L392.1 463.1 L393.4 463.0 L394.6 462.9 L395.8 462.8 L397.0 462.7 L398.0 462.6 L399.0 462.5 L400.1 462.4 L401.1 462.3 L402.1 462.3 L403.1 462.2 L404.1 462.1 L405.1 462.0 L406.1 461.9 L407.2 461.9 L408.2 461.8 L409.2 461.7 L410.2 461.6 L411.2 461.5 L412.2 461.5 L413.2 461.4 L414.2 461.3 L415.3 461.2 L416.3 461.2 L417.3 461.1 L418.3 461.0 L419.3 460.9 L420.4 460.9 L421.4 460.8 L422.4 460.7 L423.5 460.7 L424.5 460.6 L425.6 460.5 L426.6 460.5 L427.6 460.4 L428.7 460.3 L429.7 460.3 L430.7 460.2 L431.7 460.1 L432.7 460.0 L434.0 460.0 L435.2 459.9 L436.4 459.8 L437.5 459.7 L438.7 459.6 L439.8 459.5 L440.8 459.4 L441.9 459.3 L443.0 459.2 L444.1 459.1 L445.1 459.0 L446.2 458.9 L447.2 458.8 L448.2 458.7 L449.4 458.6 L450.6 458.5 L451.8 458.3 L453.0 458.2 L454.1 458.1 L455.3 458.0 L456.3 457.9 L457.5 457.8 L458.7 457.6 L459.8 457.5 L461.0 457.4 L462.2 457.3 L463.3 457.2 L464.4 457.1 L465.6 456.9 L466.6 456.8 L467.7 456.7 L468.8 456.5 L470.0 456.4 L471.2 456.2 L472.4 456.1 L473.4 455.9 L474.4 455.8 L475.5 455.7 L476.5 455.5 L477.6 455.4 L478.7 455.2 L479.7 455.1 L480.8 455.0 L481.9 454.8 L483.0 454.7 L484.0 454.5 L485.1 454.4 L486.1 454.2 L487.2 454.1 L488.2 454.0 L489.2 453.8 L490.2 453.7 L491.2 453.6 L492.2 453.5 L493.2 453.3 L494.2 453.2 L495.2 453.1 L496.2 453.0 L497.2 452.9 L498.2 452.7 L499.2 452.6 L500.2 452.5 L501.2 452.4 L502.2 452.2 L503.2 452.1 L504.2 452.0 L505.2 451.9 L506.2 451.8 L507.2 451.7 L508.2 451.5 L509.2 451.4 L510.2 451.3 L511.2 451.2 L512.2 451.1 L513.2 451.0 L514.2 450.8 L515.3 450.7 L516.3 450.6 L517.3 450.5 L518.3 450.4 L519.4 450.2 L520.4 450.1 L521.4 450.0 L522.5 449.9 L523.6 449.8 L524.6 449.6 L525.7 449.5 L526.7 449.4 L527.8 449.3 L528.8 449.2 L529.8 449.1 L530.9 448.9 L531.9 448.8 L532.9 448.7 L534.1 448.6 L535.3 448.5 L536.5 448.3 L537.6 448.2 L538.7 448.1 L539.8 448.0 L540.9 447.9 L542.0 447.8 L543.0 447.7 L544.0 447.6 L545.3 447.5 L546.5 447.4 L547.7 447.3 L548.8 447.2 L550.0 447.1 L551.2 447.1 L552.2 447.0 L553.5 447.0 L554.5 447.0 L555.6 447.0 L556.6 447.0 L557.7 447.1 L558.8 447.1 L559.8 447.2 L560.9 446.7 L561.9 447.5 L563.1 446.7 L564.3 447.5 L565.4 446.6 L566.5 446.6 L567.6 446.2 L568.8 446.9 L569.9 445.6 L571.0 445.9 L572.0 444.6 L573.2 445.1 L574.3 444.1 L575.5 444.8 L576.5 443.5 L577.4 444.2 L578.5 444.1 L579.5 443.0 L580.5 443.5 L581.5 442.8 L582.5 443.5 L583.6 442.4 L584.6 443.2 L585.6 442.3 L586.7 442.1 L587.7 442.8 L588.8 442.1 L589.8 442.9 L590.8 442.0 L591.8 442.8 L593.1 442.1 L594.3 443.2 L595.3 443.3 L596.4 442.5 L597.4 443.7 L598.4 443.0 L599.4 444.2 L600.5 443.7 L601.6 444.4 L602.6 445.8 L603.4 446.6 L604.1 446.6 L604.7 448.3 L605.4 448.4 L606.2 449.9 L607.3 450.1 L608.4 449.0 L609.4 448.4 L610.4 448.9 L611.4 448.6 L612.6 448.0 L613.5 448.9 L614.5 448.6 L615.4 450.3 L616.2 450.0 L616.9 451.6 L617.4 452.8 L617.9 453.1 L618.2 454.9 L618.5 454.9 L618.8 457.1 L619.1 457.1 L619.4 459.0 L619.7 459.3 L620.1 460.8 L620.4 462.0 L620.7 462.9 L621.0 463.9 L621.3 464.9 L621.6 465.9 L621.9 466.8 L622.2 467.8 L622.5 468.8 L622.8 469.8 L623.2 471.0 L623.6 472.1 L624.1 473.2 L624.6 474.3 L625.0 475.5 L625.4 476.4 L625.8 477.4 L626.1 478.4 L626.4 479.4 L626.7 480.4 L626.9 481.4 L627.1 482.5 L627.3 483.7 L627.4 484.9 L627.5 486.1 L627.6 487.1 L627.7 488.1 L627.8 489.1 L627.8 490.2 L627.9 491.2 L627.9 492.3 L628.0 493.3 L628.0 494.4 L628.0 495.5 L628.1 496.5 L628.1 497.6 L628.2 498.6 L628.2 499.6 L628.3 500.7 L628.4 501.7 L628.5 502.7 L628.5 503.8 L628.6 505.1 L628.7 506.3 L628.8 507.6 L628.9 508.6 L628.9 509.6 L629.0 510.6 L629.1 512.0 L629.2 513.3 L629.2 514.5 L629.3 515.7 L629.4 516.8 L629.5 517.8 L629.6 518.9 L629.7 520.0 L630.0 521.0 L630.3 520.0 L630.4 518.9 L630.5 517.8 L630.6 516.8 L630.7 515.7 L630.8 514.6 L630.8 513.3 L630.9 512.0 L631.0 510.7 L631.1 509.7 L631.1 508.7 L631.2 507.7 L631.3 506.4 L631.4 505.1 L631.5 503.9 L631.5 502.7 L631.6 501.7 L631.7 500.4 L631.8 499.2 L631.9 498.2 L631.9 497.2 L632.0 496.1 L632.1 495.1 L632.1 494.0 L632.2 493.0 L632.3 491.9 L632.3 490.9 L632.4 489.8 L632.4 488.8 L632.5 487.8 L632.6 486.7 L632.7 485.7 L632.8 484.5 L632.9 483.3 L633.0 482.1 L633.1 480.9 L633.2 479.8 L633.4 478.8 L633.5 477.7 L633.7 476.6 L633.8 475.5 L634.0 474.4 L634.2 473.4 L634.3 472.4 L634.5 471.4 L634.8 470.2 L635.0 469.0 L635.3 468.0 L635.6 467.0 L636.0 465.8 L636.5 464.8 L637.1 463.7 L637.7 462.7 L638.2 461.6 L638.5 460.5 L638.7 459.3 L639.0 458.2 L639.4 457.2 L640.4 456.8 L641.4 457.0 L642.5 457.5 L643.2 458.2 L643.6 459.2 L643.9 460.3 L644.1 461.4 L644.2 462.5 L644.3 463.8 L644.5 465.0 L644.7 466.2 L644.8 467.2 L644.9 468.3 L645.0 469.5 L645.1 470.7 L645.2 471.7 L645.2 472.7 L645.3 473.7 L645.4 474.8 L645.4 475.9 L645.5 477.0 L645.6 478.0 L645.6 479.1 L645.7 480.2 L645.8 481.3 L645.8 482.4 L645.9 483.5 L646.0 484.5 L646.1 485.5 L646.2 486.6 L646.2 487.6 L646.3 488.8 L646.4 490.0 L646.5 491.3 L646.6 492.6 L646.7 493.9 L646.7 495.2 L646.8 496.6 L646.9 497.9 L647.0 499.2 L647.1 500.4 L647.2 501.6 L647.3 502.8 L647.3 503.8 L647.5 505.0 L647.6 506.1 L647.7 507.1 L648.0 508.2 L648.4 507.6 L648.7 506.5 L648.9 505.2 L649.0 504.1 L649.2 502.8 L649.4 501.5 L649.5 500.5 L649.6 499.5 L649.8 498.2 L649.9 496.9 L650.1 495.8 L650.2 494.5 L650.3 493.5 L650.4 492.5 L650.5 491.5 L650.6 490.4 L650.7 489.4 L650.8 488.3 L650.9 487.2 L651.0 486.2 L651.1 485.1 L651.2 484.1 L651.3 483.1 L651.4 481.9 L651.5 480.7 L651.7 479.6 L651.8 478.5 L652.0 477.2 L652.1 475.9 L652.2 474.7 L652.4 473.6 L652.7 472.4 L653.2 471.5 L654.3 471.8 L655.2 472.6 L656.0 473.3 L656.8 474.2 L657.5 475.2 L658.2 475.9 L659.2 476.1 L659.9 475.4 L660.4 474.5 L661.0 473.4 L661.5 472.3 L662.1 471.4 L662.7 470.6 L663.4 469.7 L664.0 468.9 L664.7 468.1 L665.4 467.3 L666.3 466.4 L667.1 465.7 L668.0 465.0 L668.8 464.5 L669.9 464.0 L670.9 463.8 L672.0 463.8 L673.1 464.1 L673.9 464.9 L674.4 466.0 L674.9 467.2 L675.5 468.1 L676.7 468.0 L677.7 467.4 L678.7 467.9 L679.4 468.8 L680.2 468.3 L680.8 467.1 L681.7 466.6 L682.8 467.2 L683.8 467.8 L684.7 468.3 L685.8 468.4 L686.8 468.6 L687.7 469.0 L688.4 469.8 L688.9 470.9 L689.3 471.8 L689.6 472.9 L689.9 474.0 L690.2 475.0 L690.5 476.2 L690.7 477.2 L690.9 478.3 L691.1 479.5 L691.3 480.6 L691.5 481.7 L691.7 482.8 L691.9 483.8 L692.2 484.9 L692.6 486.1 L693.1 487.0 L693.6 488.0 L694.5 487.8 L695.1 486.7 L695.5 485.5 L696.0 484.4 L696.5 483.4 L697.2 482.5 L697.9 481.5 L698.7 480.7 L699.5 480.2 L700.4 480.8 L700.9 481.7 L701.4 482.9 L702.0 484.0 L702.5 484.9 L703.1 486.0 L703.7 487.0 L704.4 487.9 L705.1 488.6 L706.1 488.3 L706.9 487.6 L707.7 486.6 L708.3 485.7 L708.9 484.6 L709.3 483.7 L709.8 482.7 L710.2 481.7 L710.7 480.7 L711.1 479.7 L711.5 478.7 L711.9 477.7 L712.2 476.6 L712.6 475.5 L713.0 474.4 L713.4 473.3 L714.0 472.3 L714.8 471.6 L715.8 471.5 L716.3 472.4 L716.5 473.5 L716.7 474.7 L716.9 476.0 L717.1 477.1 L717.4 478.1 L717.9 479.3 L718.4 480.4 L719.0 480.9 L719.3 479.9 L719.4 478.7 L719.5 477.5 L719.6 476.3 L719.7 475.3 L719.7 474.2 L719.8 473.2 L719.9 472.2 L720.0 470.9 L720.1 469.8 L720.3 468.7 L720.8 467.6 L721.5 466.6 L722.4 466.4 L722.8 467.5 L723.0 468.6 L723.2 469.9 L723.4 470.9 L723.6 471.9 L723.7 473.1 L723.8 474.1 L723.9 475.2 L724.0 476.4 L724.0 477.4 L724.1 478.4 L724.1 479.5 L724.2 480.6 L724.2 481.7 L724.3 482.8 L724.3 483.9 L724.3 485.1 L724.4 486.2 L724.4 487.3 L724.5 488.4 L724.5 489.5 L724.6 490.6 L724.6 491.6 L724.7 492.8 L724.8 494.0 L724.9 495.1 L725.0 496.4 L725.1 497.7 L725.2 499.0 L725.2 500.0 L725.3 501.0 L725.4 502.3 L725.5 503.6 L725.6 504.8 L725.7 505.9 L725.9 507.1 L726.0 508.1 L726.2 509.1 L726.7 508.6 L727.0 507.4 L727.1 506.3 L727.3 505.2 L727.5 503.9 L727.6 502.6 L727.8 501.6 L727.9 500.6 L728.0 499.3 L728.2 498.1 L728.3 497.1 L728.4 496.1 L728.5 495.0 L728.6 493.9 L728.7 492.8 L728.8 491.7 L728.9 490.6 L728.9 489.5 L729.0 488.4 L729.1 487.3 L729.2 486.3 L729.4 485.1 L729.6 484.0 L729.8 483.0 L730.3 481.9 L730.9 480.7 L731.5 479.9 L732.3 479.9 L732.6 481.0 L732.8 482.2 L732.9 483.3 L733.0 484.5 L733.2 485.7 L733.3 487.1 L733.4 488.4 L733.5 489.6 L733.6 490.8 L733.7 492.0 L733.8 493.1 L733.9 494.2 L734.0 495.5 L734.1 496.8 L734.2 498.1 L734.2 499.1 L734.3 500.1 L734.4 501.4 L734.4 502.7 L734.5 503.9 L734.6 505.1 L734.7 506.1 L734.8 507.3 L734.9 508.3 L735.2 509.3 L735.6 508.2 L735.7 507.2 L735.9 506.1 L736.0 505.0 L736.1 503.7 L736.3 502.4 L736.4 501.4 L736.5 500.4 L736.6 499.1 L736.7 497.9 L736.8 496.8 L737.0 495.6 L737.0 494.6 L737.1 493.5 L737.1 492.4 L737.2 491.3 L737.2 490.2 L737.3 489.0 L737.3 487.9 L737.4 486.8 L737.4 485.7 L737.5 484.6 L737.6 483.6 L737.8 482.4 L737.9 481.4 L738.2 480.2 L738.7 479.1 L739.2 478.2 L740.0 477.4 L740.8 476.4 L741.3 475.4 L741.7 474.4 L742.0 473.4 L742.4 472.4 L742.8 471.4 L743.2 470.4 L743.9 469.4 L744.7 468.5 L745.8 467.8 L746.9 467.3 L747.8 466.8 L748.6 466.2 L749.4 465.3 L750.2 464.5 L751.0 463.5 L751.6 462.7 L752.1 461.8 L752.7 460.9 L753.3 460.0 L753.9 459.2 L754.5 458.1 L755.0 457.2 L755.5 456.2 L756.0 455.2 L756.6 454.3 L757.1 453.3 L757.6 452.4 L758.2 451.3 L758.8 450.5 L759.6 449.5 L760.5 448.7 L761.3 448.1 L762.4 447.6 L763.6 447.5 L764.6 447.7 L765.6 447.9 L766.6 448.2 L767.6 448.6 L768.5 449.1 L769.5 449.5 L770.6 449.6 L771.6 449.1 L772.5 448.4 L773.3 447.7 L774.1 446.9 L775.0 446.1 L775.9 445.5 L776.7 444.8 L777.8 444.5 L778.9 445.0 L779.9 445.6 L780.8 446.0 L781.9 446.1 L783.0 445.9 L784.0 445.6 L784.8 445.0 L785.6 444.1 L786.4 443.3 L787.5 442.9 L788.4 443.7 L788.9 444.7 L789.4 445.8 L789.6 446.8 L789.8 447.9 L789.9 448.9 L790.0 450.0 L790.1 451.0 L790.1 452.2 L790.2 453.3 L790.3 454.4 L790.4 455.5 L790.5 456.5 L790.6 457.5 L790.8 458.5 L790.9 459.5 L791.0 460.6 L791.2 461.6 L791.3 462.6 L791.5 463.6 L791.6 464.6 L791.8 465.8 L792.0 467.0 L792.2 468.3 L792.4 469.5 L792.6 470.8 L792.8 472.1 L793.0 473.3 L793.2 474.2 L793.6 475.2 L794.3 474.5 L794.7 473.3 L795.0 472.2 L795.3 470.9 L795.5 469.9 L795.8 468.9 L796.1 467.7 L796.4 466.6 L796.6 465.4 L796.8 464.4 L797.0 463.3 L797.2 462.3 L797.4 461.2 L797.6 460.1 L797.8 459.0 L798.0 457.9 L798.2 456.9 L798.5 455.7 L798.8 454.6 L799.1 453.6 L799.7 452.5 L800.3 451.5 L801.0 450.7 L801.8 449.8 L802.7 449.1 L803.7 448.6 L804.9 448.5 L805.8 449.0 L806.5 449.8 L807.1 450.8 L807.7 451.7 L808.1 452.6 L808.5 453.8 L808.9 455.1 L809.3 456.2 L809.7 457.1 L810.6 456.7 L811.0 455.7 L811.5 454.5 L812.0 453.5 L812.6 452.6 L813.3 451.8 L814.3 451.9 L815.3 452.5 L816.1 453.3 L816.8 454.3 L817.3 455.4 L818.0 455.2 L818.4 454.2 L818.6 453.2 L818.8 452.1 L819.1 450.9 L819.6 450.0 L820.2 451.0 L820.5 452.2 L820.7 453.1 L821.0 454.4 L821.4 455.4 L821.8 456.6 L822.2 457.9 L822.6 459.0 L823.3 459.7 L824.1 458.8 L824.5 457.7 L824.9 456.5 L825.4 455.4 L826.0 454.5 L826.5 453.5 L827.1 452.6 L827.7 451.8 L828.4 451.0 L829.3 450.1 L830.2 449.4 L831.1 448.9 L832.3 448.7 L833.4 449.0 L834.3 449.6 L835.2 450.2 L836.1 450.9 L837.0 451.7 L837.7 452.5 L838.4 453.3 L839.0 454.1 L839.7 455.0 L840.2 455.9 L840.8 457.0 L841.3 457.9 L841.7 458.9 L842.1 459.8 L842.6 460.8 L843.0 461.7 L843.6 462.5 L844.1 463.4 L844.8 464.2 L845.4 465.0 L846.0 465.8 L846.6 466.6 L847.2 467.5 L847.7 468.4 L848.2 469.3 L848.7 470.2 L849.2 471.2 L849.7 472.1 L850.2 473.3 L850.6 474.4 L850.9 475.3 L851.2 476.5 L851.4 477.4 L851.6 478.4 L851.7 479.5 L851.9 480.8 L852.0 481.8 L852.1 483.1 L852.2 484.3 L852.4 485.4 L852.8 485.6 L853.0 484.6 L853.1 483.5 L853.3 482.2 L853.4 481.2 L853.5 479.9 L853.7 478.7 L853.9 477.7 L854.1 476.7 L854.4 475.5 L854.7 474.4 L855.0 473.4 L855.2 472.3 L855.4 471.3 L855.7 470.3 L856.1 469.3 L856.6 468.4 L857.3 467.6 L858.0 466.8 L858.7 466.0 L859.5 465.2 L860.3 464.3 L861.0 463.5 L861.9 462.7 L862.5 461.8 L862.9 460.9 L863.3 459.8 L863.7 458.6 L864.2 457.4 L864.6 456.4 L865.2 455.5 L866.2 455.4 L867.0 456.1 L867.9 457.1 L868.8 457.9 L869.8 458.2 L870.6 457.5 L871.2 456.7 L871.7 455.7 L872.3 454.6 L872.8 453.6 L873.3 452.6 L873.7 451.5 L874.1 450.4 L874.5 449.3 L875.1 448.3 L876.0 448.0 L876.8 448.5 L877.7 449.4 L878.4 450.4 L878.8 451.4 L879.0 452.7 L879.2 453.7 L879.3 455.0 L879.6 456.0 L879.9 455.0 L880.0 453.8 L880.1 452.6 L880.2 451.6 L880.3 450.5 L880.3 449.4 L880.4 448.2 L880.5 447.1 L880.6 446.0 L880.6 445.0 L880.8 443.8 L880.9 442.8 L881.1 441.7 L881.5 442.4 L881.7 443.4 L881.9 444.6 L882.1 445.7 L882.2 446.8 L882.4 447.9 L882.5 449.0 L882.7 450.2 L882.9 451.2 L883.3 451.9 L883.6 450.7 L883.7 449.6 L883.8 448.4 L883.9 447.4 L884.0 446.4 L884.0 446.4"/>
<line class="d" x1="706.5" y1="120" x2="706.5" y2="437.6"/>
<line class="d" x1="776.8" y1="72.9" x2="776.8" y2="373.5"/>
<text x="215.1" y="110.5">PNE<tspan style="font-weight:bold">-</tspan>1.5/DGEBA/DDS</text>
<text x="199.9" y="322.9">PNB<tspan style="font-weight:bold">-</tspan>1.5/DGEBA/DDS</text>
<text x="223.5" y="452.3" style="font-size:31.25px">DGEBA/DDS</text>
<text x="675" y="104.3">P</text><text x="693.95" y="104.5" textLength="27.7" lengthAdjust="spacingAndGlyphs" style="font-size:32px">=</text><text x="723" y="104.3">O</text>
<text x="729.5" y="58">P</text><text x="750.1" y="54" textLength="23.5" lengthAdjust="spacingAndGlyphs">—</text><text x="777.3" y="58">O</text><text x="803.3" y="54" textLength="23.3" lengthAdjust="spacingAndGlyphs">—</text><text x="830" y="58">P</text>
<text x="0" y="0" transform="translate(455.6,643.8) scale(1,0.84)" style="font-style:italic;font-weight:bold">σ</text>
<text x="478" y="643.2" style="font-size:33px">/</text>
<text x="492" y="642.8">cm</text>
<text x="533.6" y="633" style="font-size:19px" textLength="16.3" lengthAdjust="spacingAndGlyphs">−</text>
<text x="550" y="633" style="font-size:19px">1</text>
</svg>
</body></html>
